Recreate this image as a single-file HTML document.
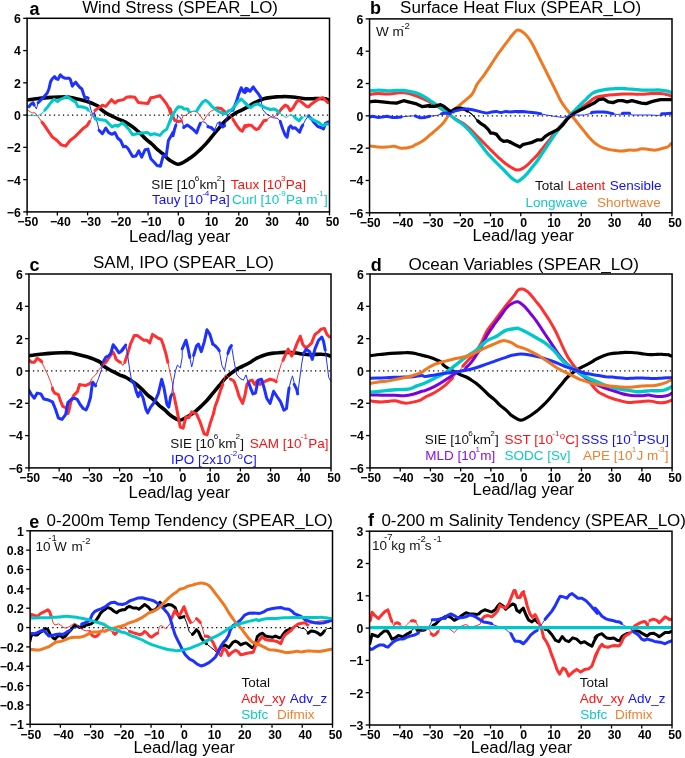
<!DOCTYPE html><html><head><meta charset="utf-8"><style>html,body{margin:0;padding:0;background:#fff;width:685px;height:758px;overflow:hidden}svg{display:block;will-change:transform}text{font-family:"Liberation Sans",sans-serif}</style></head><body>
<svg width="685" height="758" viewBox="0 0 685 758">
<g><line x1="26.50" y1="115.10" x2="329.50" y2="115.10" stroke="#000" stroke-width="1.2" stroke-dasharray="1.3 3.25"/><clipPath id="cpa"><rect x="27.10" y="18.30" width="302.40" height="193.60"/></clipPath><g clip-path="url(#cpa)"><path d="M25.6 99.9 C25.9 99.9 25.5 100.0 27.3 99.9 C29.1 99.7 33.0 99.1 36.4 98.7 C39.8 98.3 44.0 97.9 47.8 97.6 C51.6 97.3 55.7 97.1 59.2 97.0 C62.6 96.9 65.4 96.7 68.3 97.0 C71.1 97.3 73.4 98.1 76.2 98.7 C79.1 99.4 82.5 100.1 85.4 101.0 C88.2 101.8 91.0 102.9 93.3 103.8 C95.6 104.8 97.8 105.8 99.0 106.7 C100.2 107.6 99.5 108.1 100.7 109.2 C101.9 110.3 104.5 112.1 106.4 113.2 C108.3 114.4 110.2 115.1 112.1 116.1 C114.0 117.0 115.9 118.1 117.8 118.9 C119.7 119.8 121.6 120.2 123.5 121.2 C125.4 122.1 127.3 123.4 129.2 124.6 C131.1 125.8 133.0 127.1 134.9 128.6 C136.8 130.1 138.6 131.9 140.5 133.7 C142.4 135.5 144.3 137.7 146.2 139.4 C148.1 141.1 150.0 142.3 151.9 144.0 C153.8 145.7 155.7 147.9 157.6 149.7 C159.5 151.4 161.6 152.7 163.3 154.2 C165.0 155.7 166.2 157.4 167.9 158.8 C169.6 160.2 171.9 161.6 173.6 162.5 C175.2 163.4 176.3 164.2 177.7 164.3 C179.1 164.4 180.2 163.9 181.9 163.1 C183.6 162.3 185.8 160.8 187.8 159.6 C189.8 158.3 191.8 157.0 193.7 155.4 C195.7 153.8 197.7 151.9 199.7 150.1 C201.7 148.2 203.6 146.3 205.6 144.1 C207.6 141.9 209.6 139.4 211.6 137.0 C213.5 134.6 215.5 132.2 217.5 129.9 C219.5 127.5 221.5 124.8 223.4 122.7 C225.4 120.7 227.4 119.0 229.4 117.4 C231.3 115.8 233.3 114.4 235.3 113.2 C237.3 112.1 239.0 111.4 241.2 110.3 C243.5 109.1 246.9 107.4 248.8 106.4 C250.6 105.3 251.1 104.7 252.5 103.9 C254.0 103.0 255.7 102.2 257.6 101.3 C259.4 100.5 261.7 99.5 263.8 98.8 C265.9 98.2 268.0 97.9 270.1 97.6 C272.2 97.3 274.3 97.1 276.4 96.9 C278.5 96.8 280.6 96.6 282.7 96.6 C284.8 96.5 286.8 96.6 288.9 96.7 C291.0 96.8 293.1 96.9 295.2 97.2 C297.3 97.5 299.4 97.9 301.5 98.2 C303.6 98.5 305.7 98.8 307.8 98.8 C309.9 98.9 312.0 98.6 314.1 98.6 C316.1 98.5 318.4 98.4 320.3 98.5 C322.2 98.5 324.1 98.6 325.4 98.8 C326.6 99.1 327.1 99.6 327.9 99.8 C328.6 100.0 329.3 100.0 329.6 100.1" fill="none" stroke="#000" stroke-width="3.6" stroke-linejoin="round" stroke-linecap="round"/><path d="M29.0 106.7 L30.7 104.4 L33.0 102.7 L34.1 105.0" fill="none" stroke="#1e32ff" stroke-width="3.0" stroke-linejoin="round" stroke-linecap="round"/><path d="M34.1 105.0 L36.4 109.0 L38.1 102.7" fill="none" stroke="#1e32ff" stroke-width="1.0" stroke-linejoin="round" stroke-linecap="round"/><path d="M38.1 102.7 L40.9 99.9 L44.4 96.4 L47.2 93.0 L48.9 89.0 L50.6 81.6 L52.3 78.8 L54.6 76.5 L56.3 78.8 L58.0 79.4 L60.3 74.8 L62.6 77.1 L64.9 78.2 L69.4 78.2 L70.5 79.9 L72.3 86.2 L74.0 83.9 L75.7 82.2 L77.4 84.5 L79.7 87.3 L81.9 89.0 L83.6 94.2 L84.8 97.6 L87.1 97.6 L88.2 98.1" fill="none" stroke="#1e32ff" stroke-width="3.0" stroke-linejoin="round" stroke-linecap="round"/><path d="M88.2 98.1 L89.3 103.3 L91.0 110.1 L93.3 115.8 L95.0 119.2" fill="none" stroke="#1e32ff" stroke-width="1.0" stroke-linejoin="round" stroke-linecap="round"/><path d="M95.0 119.2 L94.4 112.1 L96.1 118.9 L97.8 124.6 L99.0 130.3" fill="none" stroke="#1e32ff" stroke-width="1.0" stroke-linejoin="round" stroke-linecap="round"/><path d="M99.0 130.3 L102.4 133.7 L105.8 128.0 L108.7 132.6 L112.1 134.3 L114.9 132.6 L117.8 138.3 L120.6 140.5 L123.5 146.8 L125.7 146.2 L128.0 148.5 L132.6 156.5 L136.0 155.9 L138.8 150.8 L141.7 157.1 L145.1 149.7 L147.9 149.1 L150.8 158.8 L154.2 162.2 L157.1 165.6 L160.5 166.2 L163.3 155.4 L166.2 155.9 L168.4 140.5 L173.0 132.6" fill="none" stroke="#1e32ff" stroke-width="3.0" stroke-linejoin="round" stroke-linecap="round"/><path d="M173.0 132.6 L173.0 135.8 L174.7 128.7 L175.9 125.1" fill="none" stroke="#1e32ff" stroke-width="3.0" stroke-linejoin="round" stroke-linecap="round"/><path d="M175.9 125.1 L177.7 115.6 L179.5 116.8 L181.9 120.4 L183.7 126.9" fill="none" stroke="#1e32ff" stroke-width="1.0" stroke-linejoin="round" stroke-linecap="round"/><path d="M183.7 126.9 L183.7 127.5 L187.2 125.1 L190.8 127.5 L193.7 129.9 L196.7 132.8 L198.5 127.5 L200.3 123.3" fill="none" stroke="#1e32ff" stroke-width="3.0" stroke-linejoin="round" stroke-linecap="round"/><path d="M200.3 123.3 L202.7 121.6 L205.6 122.7 L208.0 126.3" fill="none" stroke="#1e32ff" stroke-width="1.0" stroke-linejoin="round" stroke-linecap="round"/><path d="M208.0 126.3 L208.0 126.9 L211.0 127.5 L214.5 130.5" fill="none" stroke="#1e32ff" stroke-width="3.0" stroke-linejoin="round" stroke-linecap="round"/><path d="M214.5 130.5 L217.5 122.7 L219.9 122.7" fill="none" stroke="#1e32ff" stroke-width="1.0" stroke-linejoin="round" stroke-linecap="round"/><path d="M219.9 122.7 L219.9 123.9 L222.8 126.9 L224.6 125.7" fill="none" stroke="#1e32ff" stroke-width="3.0" stroke-linejoin="round" stroke-linecap="round"/><path d="M224.6 125.7 L227.6 115.6 L230.6 112.1 L232.9 110.3" fill="none" stroke="#1e32ff" stroke-width="1.0" stroke-linejoin="round" stroke-linecap="round"/><path d="M232.9 110.3 L234.1 107.3 L236.5 101.4 L238.3 95.4 L241.2 87.7 L243.6 91.9 L246.0 88.3 L248.0 90.7" fill="none" stroke="#1e32ff" stroke-width="3.0" stroke-linejoin="round" stroke-linecap="round"/><path d="M245.0 92.6 L247.5 88.8 L250.0 91.3 L253.2 86.9 L256.3 91.3 L258.8 94.4 L260.7 97.6" fill="none" stroke="#1e32ff" stroke-width="3.0" stroke-linejoin="round" stroke-linecap="round"/><path d="M260.7 97.6 L262.6 109.5 L266.3 113.9 L270.1 115.8 L272.6 117.7 L277.6 118.3 L280.2 121.4" fill="none" stroke="#1e32ff" stroke-width="1.0" stroke-linejoin="round" stroke-linecap="round"/><path d="M280.2 121.4 L282.7 129.0 L285.2 135.2 L287.1 137.1 L288.9 127.7 L290.8 125.8 L292.7 128.3 L295.2 127.7 L297.7 130.2 L299.6 132.1 L301.5 127.1 L302.8 125.2" fill="none" stroke="#1e32ff" stroke-width="3.0" stroke-linejoin="round" stroke-linecap="round"/><path d="M302.8 125.2 L305.3 120.2 L308.4 115.8" fill="none" stroke="#1e32ff" stroke-width="1.0" stroke-linejoin="round" stroke-linecap="round"/><path d="M308.4 115.8 L311.5 118.9 L314.1 122.7 L317.8 126.5 L321.6 127.7 L323.5 129.0 L325.4 123.3 L327.9 122.1 L330.4 122.1" fill="none" stroke="#1e32ff" stroke-width="3.0" stroke-linejoin="round" stroke-linecap="round"/><path d="M27.8 110.1 L31.8 112.9 L35.2 112.9 L37.5 115.8 L39.2 118.1" fill="none" stroke="#ff3030" stroke-width="1.0" stroke-linejoin="round" stroke-linecap="round"/><path d="M39.2 118.1 L39.7 118.8 L42.0 122.2" fill="none" stroke="#ff3030" stroke-width="1.0" stroke-linejoin="round" stroke-linecap="round"/><path d="M42.0 122.2 L43.1 123.4 L47.6 130.1 L52.2 136.9 L56.7 140.3 L61.2 144.9 L65.7 146.0 L70.3 140.3 L74.8 136.9 L79.3 132.4 L83.8 127.9 L87.2 125.6 L89.5 121.5" fill="none" stroke="#ff3030" stroke-width="3.0" stroke-linejoin="round" stroke-linecap="round"/><path d="M89.5 121.5 L90.8 119.5 L91.8 117.1 L94.9 110.5" fill="none" stroke="#ff3030" stroke-width="1.0" stroke-linejoin="round" stroke-linecap="round"/><path d="M94.9 110.5 L98.4 108.1 L102.4 105.2 L105.8 106.4 L111.5 99.6 L114.9 103.0 L117.8 100.7 L123.5 99.6 L126.3 97.3 L130.3 96.7 L134.9 97.3 L138.3 102.4 L142.8 103.0 L147.9 103.5 L150.8 97.8 L154.2 97.3 L159.9 95.6 L163.3 99.6 L166.7 104.1 L169.0 108.7 L170.7 113.8 L173.0 115.5" fill="none" stroke="#ff3030" stroke-width="3.0" stroke-linejoin="round" stroke-linecap="round"/><path d="M170.0 108.5 L172.4 115.6 L174.7 120.4 L178.3 121.6 L181.3 121.0" fill="none" stroke="#ff3030" stroke-width="3.0" stroke-linejoin="round" stroke-linecap="round"/><path d="M181.3 121.0 L183.1 115.6 L185.4 115.6 L189.0 113.2 L191.4 112.1 L193.7 110.9 L197.3 112.1 L200.9 116.8 L203.8 120.4 L206.8 115.6 L210.4 111.5 L213.9 109.7 L215.1 108.5" fill="none" stroke="#ff3030" stroke-width="1.0" stroke-linejoin="round" stroke-linecap="round"/><path d="M215.1 108.5 L217.5 107.9 L221.1 108.5 L224.6 111.5" fill="none" stroke="#ff3030" stroke-width="3.0" stroke-linejoin="round" stroke-linecap="round"/><path d="M224.6 111.5 L228.2 115.0 L231.1 116.2 L232.9 119.2" fill="none" stroke="#ff3030" stroke-width="1.0" stroke-linejoin="round" stroke-linecap="round"/><path d="M232.9 119.2 L236.5 125.1 L240.1 129.9 L242.4 131.1 L244.8 125.7 L248.0 125.1" fill="none" stroke="#ff3030" stroke-width="3.0" stroke-linejoin="round" stroke-linecap="round"/><path d="M245.0 127.1 L248.8 125.2 L251.3 125.2 L253.8 127.7 L256.3 129.6 L258.8 128.3 L261.3 124.6 L263.8 120.8 L266.3 120.2" fill="none" stroke="#ff3030" stroke-width="3.0" stroke-linejoin="round" stroke-linecap="round"/><path d="M266.3 120.2 L270.1 117.0 L272.6 117.0 L275.1 116.4 L277.6 113.9" fill="none" stroke="#ff3030" stroke-width="1.0" stroke-linejoin="round" stroke-linecap="round"/><path d="M277.6 113.9 L281.4 108.9 L285.2 105.1 L287.7 106.4 L290.2 110.8 L293.3 107.6 L296.5 102.0 L299.0 100.1 L302.8 103.2 L306.5 106.4 L308.4 107.0 L311.5 103.9 L315.3 101.3 L319.1 98.8 L322.8 97.6 L325.4 100.1 L327.9 102.6 L330.4 103.2" fill="none" stroke="#ff3030" stroke-width="3.0" stroke-linejoin="round" stroke-linecap="round"/><path d="M27.3 115.8 L31.8 115.2 L36.4 115.8 L39.8 114.7 L43.2 112.4 L44.9 110.1" fill="none" stroke="#00c8c8" stroke-width="1.0" stroke-linejoin="round" stroke-linecap="round"/><path d="M44.9 110.1 L47.8 106.7 L51.2 102.1 L54.0 99.3 L57.5 101.6 L60.3 99.3 L63.7 98.1 L66.6 96.4 L69.4 98.1 L72.8 100.4 L75.7 102.1 L77.9 106.7 L80.8 106.7 L84.2 107.3 L87.1 108.4 L88.2 110.1" fill="none" stroke="#00c8c8" stroke-width="3.0" stroke-linejoin="round" stroke-linecap="round"/><path d="M88.2 110.1 L90.5 112.9 L93.3 116.9 L95.6 119.2" fill="none" stroke="#00c8c8" stroke-width="1.0" stroke-linejoin="round" stroke-linecap="round"/><path d="M95.6 119.2 L95.0 118.3 L99.6 119.5 L105.8 120.6 L109.2 124.0 L112.1 126.9 L115.5 125.2 L117.8 126.3 L122.3 122.9 L125.2 125.2 L129.2 129.7 L132.6 134.9 L137.1 133.7 L141.7 133.1 L147.4 132.6 L150.8 134.9 L154.2 133.7 L159.9 135.4 L163.3 131.4 L166.7 129.2 L169.0 123.5 L171.3 117.8 L173.0 113.8" fill="none" stroke="#00c8c8" stroke-width="3.0" stroke-linejoin="round" stroke-linecap="round"/><path d="M170.0 121.6 L172.4 115.6 L175.9 109.7 L178.3 106.7 L181.9 107.3 L184.2 109.1 L187.8 109.1 L189.0 111.5" fill="none" stroke="#00c8c8" stroke-width="3.0" stroke-linejoin="round" stroke-linecap="round"/><path d="M189.0 111.5 L193.7 111.5 L196.7 110.9" fill="none" stroke="#00c8c8" stroke-width="1.0" stroke-linejoin="round" stroke-linecap="round"/><path d="M196.7 110.9 L199.7 106.1 L202.7 102.0 L205.6 100.2 L208.6 102.6 L211.6 106.1 L215.1 109.1 L218.7 111.5 L222.2 113.2 L225.8 113.8 L228.2 110.9 L231.7 109.7 L234.7 106.1 L237.7 102.0 L241.2 99.0 L244.2 102.0 L248.0 106.1" fill="none" stroke="#00c8c8" stroke-width="3.0" stroke-linejoin="round" stroke-linecap="round"/><path d="M245.0 102.6 L247.5 105.1 L250.6 107.6 L253.8 105.1 L257.6 103.9 L261.3 105.7 L265.1 107.6 L270.1 109.5 L273.9 108.9 L276.4 110.1 L278.9 112.6" fill="none" stroke="#00c8c8" stroke-width="3.0" stroke-linejoin="round" stroke-linecap="round"/><path d="M278.9 112.6 L282.7 115.2 L286.4 117.7 L290.2 114.5 L294.0 116.4" fill="none" stroke="#00c8c8" stroke-width="1.0" stroke-linejoin="round" stroke-linecap="round"/><path d="M294.0 116.4 L296.5 118.9 L299.0 120.8 L301.5 117.7" fill="none" stroke="#00c8c8" stroke-width="3.0" stroke-linejoin="round" stroke-linecap="round"/><path d="M301.5 117.7 L305.3 116.4 L308.4 115.8 L310.3 118.3" fill="none" stroke="#00c8c8" stroke-width="1.0" stroke-linejoin="round" stroke-linecap="round"/><path d="M310.3 118.3 L315.3 120.8 L319.1 122.7 L322.8 125.8 L326.6 123.9 L330.4 123.9" fill="none" stroke="#00c8c8" stroke-width="3.0" stroke-linejoin="round" stroke-linecap="round"/></g><rect x="27.10" y="18.30" width="302.40" height="193.60" fill="none" stroke="#000" stroke-width="1.5"/><line x1="23.20" y1="211.90" x2="27.10" y2="211.90" stroke="#000" stroke-width="1.3"/><text x="20.90" y="216.80" font-size="12.3" font-weight="bold" text-anchor="end">−6</text><line x1="23.20" y1="179.63" x2="27.10" y2="179.63" stroke="#000" stroke-width="1.3"/><text x="20.90" y="184.53" font-size="12.3" font-weight="bold" text-anchor="end">−4</text><line x1="23.20" y1="147.37" x2="27.10" y2="147.37" stroke="#000" stroke-width="1.3"/><text x="20.90" y="152.27" font-size="12.3" font-weight="bold" text-anchor="end">−2</text><line x1="23.20" y1="115.10" x2="27.10" y2="115.10" stroke="#000" stroke-width="1.3"/><text x="20.90" y="120.00" font-size="12.3" font-weight="bold" text-anchor="end">0</text><line x1="23.20" y1="82.83" x2="27.10" y2="82.83" stroke="#000" stroke-width="1.3"/><text x="20.90" y="87.73" font-size="12.3" font-weight="bold" text-anchor="end">2</text><line x1="23.20" y1="50.57" x2="27.10" y2="50.57" stroke="#000" stroke-width="1.3"/><text x="20.90" y="55.47" font-size="12.3" font-weight="bold" text-anchor="end">4</text><line x1="23.20" y1="18.30" x2="27.10" y2="18.30" stroke="#000" stroke-width="1.3"/><text x="20.90" y="23.20" font-size="12.3" font-weight="bold" text-anchor="end">6</text><line x1="27.10" y1="211.90" x2="27.10" y2="215.40" stroke="#000" stroke-width="1.3"/><text x="27.80" y="226.20" font-size="12.3" font-weight="bold" text-anchor="middle">−50</text><line x1="57.34" y1="211.90" x2="57.34" y2="215.40" stroke="#000" stroke-width="1.3"/><text x="60.34" y="226.20" font-size="12.3" font-weight="bold" text-anchor="middle">−40</text><line x1="87.58" y1="211.90" x2="87.58" y2="215.40" stroke="#000" stroke-width="1.3"/><text x="90.58" y="226.20" font-size="12.3" font-weight="bold" text-anchor="middle">−30</text><line x1="117.82" y1="211.90" x2="117.82" y2="215.40" stroke="#000" stroke-width="1.3"/><text x="120.82" y="226.20" font-size="12.3" font-weight="bold" text-anchor="middle">−20</text><line x1="148.06" y1="211.90" x2="148.06" y2="215.40" stroke="#000" stroke-width="1.3"/><text x="151.06" y="226.20" font-size="12.3" font-weight="bold" text-anchor="middle">−10</text><line x1="178.30" y1="211.90" x2="178.30" y2="215.40" stroke="#000" stroke-width="1.3"/><text x="181.30" y="226.20" font-size="12.3" font-weight="bold" text-anchor="middle">0</text><line x1="208.54" y1="211.90" x2="208.54" y2="215.40" stroke="#000" stroke-width="1.3"/><text x="211.54" y="226.20" font-size="12.3" font-weight="bold" text-anchor="middle">10</text><line x1="238.78" y1="211.90" x2="238.78" y2="215.40" stroke="#000" stroke-width="1.3"/><text x="241.78" y="226.20" font-size="12.3" font-weight="bold" text-anchor="middle">20</text><line x1="269.02" y1="211.90" x2="269.02" y2="215.40" stroke="#000" stroke-width="1.3"/><text x="272.02" y="226.20" font-size="12.3" font-weight="bold" text-anchor="middle">30</text><line x1="299.26" y1="211.90" x2="299.26" y2="215.40" stroke="#000" stroke-width="1.3"/><text x="302.26" y="226.20" font-size="12.3" font-weight="bold" text-anchor="middle">40</text><line x1="329.50" y1="211.90" x2="329.50" y2="215.40" stroke="#000" stroke-width="1.3"/><text x="332.50" y="226.20" font-size="12.3" font-weight="bold" text-anchor="middle">50</text><text x="128.90" y="241.80" font-size="16" textLength="101.5" lengthAdjust="spacingAndGlyphs">Lead/lag year</text><text x="82.20" y="12.90" font-size="16" textLength="195.8" lengthAdjust="spacingAndGlyphs">Wind Stress (SPEAR_LO)</text><text x="29.50" y="15.30" font-size="18" font-weight="bold">a</text></g>
<g><line x1="368.95" y1="115.85" x2="672.00" y2="115.85" stroke="#000" stroke-width="1.2" stroke-dasharray="1.3 3.25"/><clipPath id="cpb"><rect x="369.55" y="18.90" width="302.45" height="193.90"/></clipPath><g clip-path="url(#cpb)"><path d="M368.0 145.9 C369.6 146.1 374.3 146.8 377.5 147.0 C380.7 147.2 384.2 147.2 387.0 147.0 C389.8 146.9 391.7 146.1 394.1 146.3 C396.5 146.5 398.5 148.1 401.2 148.2 C404.0 148.4 408.4 147.6 410.7 147.0 C413.1 146.5 413.5 145.7 415.5 144.7 C417.5 143.7 420.2 142.7 422.6 141.1 C425.0 139.5 427.4 137.2 429.7 135.2 C432.1 133.2 434.5 131.4 436.9 129.2 C439.2 127.1 442.0 124.5 444.0 122.1 C446.0 119.7 447.2 117.0 448.7 115.0 C450.3 113.0 451.5 112.0 453.5 110.2 C455.5 108.5 458.2 106.3 460.6 104.3 C463.0 102.3 465.8 100.1 467.7 98.4 C469.7 96.6 470.9 96.0 472.5 93.6 C474.1 91.2 475.3 87.3 477.2 84.1 C479.2 80.9 482.0 78.0 484.4 74.6 C486.7 71.3 489.1 67.5 491.5 63.9 C493.9 60.4 496.2 56.6 498.6 53.2 C501.0 49.9 503.4 46.9 505.7 43.7 C508.1 40.6 510.9 36.5 512.9 34.2 C514.8 32.0 516.0 30.4 517.6 30.0 C519.3 29.6 521.1 30.8 522.7 31.9 C524.4 33.0 525.9 34.6 527.5 36.6 C529.1 38.6 530.7 41.0 532.2 43.7 C533.8 46.5 535.4 50.1 537.0 53.2 C538.6 56.4 540.2 59.6 541.7 62.7 C543.3 65.9 544.9 69.1 546.5 72.2 C548.1 75.4 549.7 78.6 551.2 81.7 C552.8 84.9 554.4 88.1 556.0 91.2 C557.6 94.4 559.2 98.0 560.7 100.7 C562.3 103.5 563.9 105.7 565.5 107.9 C567.1 110.0 568.7 111.8 570.2 113.8 C571.8 115.8 573.4 117.8 575.0 119.7 C576.6 121.7 578.2 123.7 579.7 125.7 C581.3 127.7 582.9 129.6 584.5 131.6 C586.1 133.6 587.7 135.8 589.2 137.5 C590.8 139.3 592.0 140.7 594.0 142.3 C596.0 143.9 598.7 145.9 601.1 147.0 C603.5 148.2 605.9 148.8 608.2 149.4 C610.6 150.0 613.0 150.3 615.4 150.6 C617.7 150.9 620.1 151.2 622.5 151.1 C624.9 151.0 627.2 150.3 629.6 150.1 C632.0 150.0 634.8 150.4 636.7 150.1 C638.7 149.9 639.5 148.8 641.5 148.7 C643.5 148.6 646.2 149.2 648.6 149.4 C651.0 149.7 653.4 150.3 655.7 150.1 C658.1 149.9 660.9 148.7 662.9 148.2 C664.8 147.7 666.2 147.8 667.6 147.0 C669.0 146.3 670.6 144.1 671.2 143.5" fill="none" stroke="#f07820" stroke-width="3.0" stroke-linejoin="round" stroke-linecap="round"/><path d="M368.0 94.8 C369.6 94.6 374.3 93.7 377.5 93.6 C380.7 93.5 383.8 94.2 387.0 94.1 C390.2 94.0 393.7 93.4 396.5 93.1 C399.3 92.9 401.2 92.5 403.6 92.7 C406.0 92.8 408.4 93.5 410.7 94.1 C413.1 94.7 415.5 95.6 417.9 96.5 C420.2 97.4 422.6 98.4 425.0 99.6 C427.4 100.7 429.7 101.8 432.1 103.1 C434.5 104.4 436.3 105.4 439.2 107.4 C442.2 109.4 447.2 113.0 449.9 115.0 C452.7 117.0 453.7 117.9 455.9 119.3 C458.0 120.6 460.6 121.6 463.0 123.3 C465.4 125.0 467.7 127.1 470.1 129.2 C472.5 131.4 474.9 134.0 477.2 136.4 C479.6 138.7 482.0 141.1 484.4 143.5 C486.7 145.9 489.1 148.2 491.5 150.6 C493.9 153.0 496.2 155.6 498.6 157.7 C501.0 159.9 503.4 161.9 505.7 163.7 C508.1 165.4 510.9 167.3 512.9 168.4 C514.8 169.5 516.0 170.1 517.6 170.1 C519.3 170.1 521.1 169.3 522.7 168.4 C524.4 167.5 525.9 166.2 527.5 164.9 C529.1 163.5 530.7 161.7 532.2 160.1 C533.8 158.5 535.4 157.1 537.0 155.4 C538.6 153.6 540.2 151.4 541.7 149.4 C543.3 147.4 544.9 145.5 546.5 143.5 C548.1 141.5 549.7 139.6 551.2 137.5 C552.8 135.5 554.4 133.1 556.0 131.1 C557.6 129.2 559.2 127.5 560.7 125.7 C562.3 123.9 563.9 122.0 565.5 120.2 C567.1 118.4 568.7 116.3 570.2 115.0 C571.8 113.6 573.4 113.1 575.0 112.1 C576.6 111.1 578.2 110.2 579.7 109.1 C581.3 107.9 582.9 106.7 584.5 105.5 C586.1 104.3 587.7 103.1 589.2 101.9 C590.8 100.7 592.4 99.3 594.0 98.4 C595.6 97.5 596.8 96.9 598.7 96.5 C600.7 96.0 603.5 95.8 605.9 95.5 C608.2 95.2 610.2 95.0 613.0 94.8 C615.8 94.6 619.3 94.2 622.5 94.1 C625.7 94.0 628.8 94.1 632.0 94.1 C635.2 94.1 638.3 94.4 641.5 94.3 C644.6 94.2 647.8 93.7 651.0 93.6 C654.1 93.5 657.7 93.4 660.5 93.6 C663.3 93.8 665.8 94.4 667.6 94.8 C669.4 95.2 670.6 95.8 671.2 96.0" fill="none" stroke="#ff3030" stroke-width="3.0" stroke-linejoin="round" stroke-linecap="round"/><path d="M368.0 91.2 C369.6 91.0 374.3 90.1 377.5 90.1 C380.7 90.0 383.8 90.7 387.0 90.8 C390.2 90.8 393.7 90.6 396.5 90.5 C399.3 90.5 401.2 90.3 403.6 90.5 C406.0 90.7 408.4 91.2 410.7 91.7 C413.1 92.2 415.5 92.7 417.9 93.6 C420.2 94.5 422.6 95.8 425.0 97.2 C427.4 98.6 429.7 100.3 432.1 101.9 C434.5 103.5 437.3 105.3 439.2 106.7 C441.2 108.1 442.2 108.9 444.0 110.2 C445.8 111.6 447.9 113.4 449.9 115.0 C451.9 116.6 453.7 118.2 455.9 119.7 C458.0 121.3 460.6 122.5 463.0 124.5 C465.4 126.5 467.7 129.0 470.1 131.6 C472.5 134.2 474.9 137.0 477.2 139.9 C479.6 142.9 482.0 146.5 484.4 149.4 C486.7 152.4 489.1 155.2 491.5 157.7 C493.9 160.3 496.2 162.5 498.6 164.9 C501.0 167.2 503.4 169.6 505.7 172.0 C508.1 174.4 510.9 177.5 512.9 179.1 C514.8 180.7 516.0 181.7 517.6 181.5 C519.3 181.3 521.1 179.3 522.7 177.9 C524.4 176.5 525.9 174.9 527.5 173.2 C529.1 171.4 530.7 169.2 532.2 167.2 C533.8 165.3 535.4 163.5 537.0 161.3 C538.6 159.1 540.2 156.5 541.7 154.2 C543.3 151.8 544.9 149.4 546.5 147.0 C548.1 144.7 549.7 142.3 551.2 139.9 C552.8 137.5 554.4 135.0 556.0 132.8 C557.6 130.6 559.2 128.8 560.7 126.9 C562.3 124.9 563.9 122.9 565.5 120.9 C567.1 118.9 568.7 116.8 570.2 115.0 C571.8 113.2 573.4 111.8 575.0 110.2 C576.6 108.7 578.2 107.1 579.7 105.5 C581.3 103.9 582.9 102.3 584.5 100.7 C586.1 99.2 587.7 97.4 589.2 96.0 C590.8 94.6 592.4 93.3 594.0 92.4 C595.6 91.6 596.8 91.3 598.7 90.8 C600.7 90.3 603.5 89.7 605.9 89.3 C608.2 89.0 610.6 89.0 613.0 88.9 C615.4 88.7 617.7 88.4 620.1 88.4 C622.5 88.4 624.9 88.7 627.2 88.9 C629.6 89.0 632.0 89.1 634.4 89.3 C636.7 89.5 638.7 89.9 641.5 90.1 C644.3 90.2 647.8 90.1 651.0 90.1 C654.1 90.1 657.7 89.9 660.5 90.1 C663.3 90.3 665.8 90.8 667.6 91.2 C669.4 91.6 670.6 92.2 671.2 92.4" fill="none" stroke="#00c8c8" stroke-width="3.3" stroke-linejoin="round" stroke-linecap="round"/><path d="M368.0 101.9 L375.1 101.2 L382.2 101.9 L389.4 102.6 L396.5 103.1 L403.6 100.7 L408.4 101.9 L415.5 103.6 L422.6 106.7 L429.7 105.5 L430.0 106.4" fill="none" stroke="#000" stroke-width="3.3" stroke-linejoin="round" stroke-linecap="round"/><path d="M430.0 106.4 L434.7 106.4 L440.5 104.6 L444.0 106.4 L447.5 109.3 L450.4 111.6 L452.8 110.4 L455.7 108.7 L460.4 108.1 L465.0 109.3 L467.4 111.0" fill="none" stroke="#000" stroke-width="3.3" stroke-linejoin="round" stroke-linecap="round"/><path d="M467.4 111.0 L470.9 113.4 L474.4 116.9 L476.7 119.8 L477.9 120.9" fill="none" stroke="#000" stroke-width="1.2" stroke-linejoin="round" stroke-linecap="round"/><path d="M477.9 120.9 L481.4 123.9 L484.9 126.2 L488.4 129.7 L490.7 133.2 L493.6 133.2 L496.6 134.4 L500.1 139.1 L503.6 141.4 L507.1 140.8 L510.0 142.0" fill="none" stroke="#000" stroke-width="3.3" stroke-linejoin="round" stroke-linecap="round"/><path d="M510.0 142.0 L510.5 142.3 L515.2 144.7 L520.0 147.0 L522.7 144.7 L527.5 143.5 L532.2 142.3 L537.0 139.9 L541.7 139.9 L545.3 136.4 L548.9 134.0 L553.6 131.6 L558.4 129.2 L563.1 124.5 L566.7 119.7 L570.2 116.2 L575.0 112.6 L579.7 110.2 L584.5 107.9 L589.2 105.5 L594.0 103.1 L598.7 99.6 L603.5 98.8 L608.2 101.9 L613.0 102.6 L617.7 100.7 L622.5 100.7 L627.2 101.9 L632.0 100.7 L636.7 101.9 L641.5 103.1 L646.2 103.6 L651.0 101.9 L655.7 100.7 L660.5 99.6 L665.2 99.6 L671.2 99.6" fill="none" stroke="#000" stroke-width="3.3" stroke-linejoin="round" stroke-linecap="round"/><path d="M368.0 117.4 L372.7 116.2 L377.5 117.4 L382.2 116.9 L387.0 116.2 L391.7 117.4 L396.5 117.4 L401.2 116.9" fill="none" stroke="#1e32ff" stroke-width="3.0" stroke-linejoin="round" stroke-linecap="round"/><path d="M401.2 116.9 L408.4 116.2 L415.5 115.7" fill="none" stroke="#1e32ff" stroke-width="1.0" stroke-linejoin="round" stroke-linecap="round"/><path d="M415.5 115.7 L415.5 116.2 L420.2 117.8 L425.0 117.4 L429.7 116.2" fill="none" stroke="#1e32ff" stroke-width="3.0" stroke-linejoin="round" stroke-linecap="round"/><path d="M429.7 116.2 L436.9 115.5 L441.6 113.8" fill="none" stroke="#1e32ff" stroke-width="1.0" stroke-linejoin="round" stroke-linecap="round"/><path d="M441.6 113.8 L446.4 113.1 L449.9 113.8" fill="none" stroke="#1e32ff" stroke-width="3.0" stroke-linejoin="round" stroke-linecap="round"/><path d="M449.9 113.8 L453.5 112.1" fill="none" stroke="#1e32ff" stroke-width="1.0" stroke-linejoin="round" stroke-linecap="round"/><path d="M453.5 112.1 L453.5 111.4 L463.0 109.1 L467.7 109.1 L472.5 109.8 L477.2 110.9 L482.0 112.1 L486.7 113.1 L491.5 112.1 L496.2 111.4 L501.0 112.6 L505.7 111.4 L510.5 112.1 L515.2 111.4 L522.1 111.4" fill="none" stroke="#1e32ff" stroke-width="3.0" stroke-linejoin="round" stroke-linecap="round"/><path d="M518.0 112.1 L522.7 111.4 L527.5 112.1 L532.2 112.6 L537.0 113.1 L540.6 113.8" fill="none" stroke="#1e32ff" stroke-width="3.0" stroke-linejoin="round" stroke-linecap="round"/><path d="M540.6 113.8 L546.5 115.0 L553.6 116.2 L558.4 116.9 L563.1 117.4 L567.9 116.2 L572.6 115.0 L579.7 115.0 L584.5 115.0 L589.2 113.8 L591.6 113.1" fill="none" stroke="#1e32ff" stroke-width="1.0" stroke-linejoin="round" stroke-linecap="round"/><path d="M591.6 113.1 L591.6 112.6 L596.4 112.1 L603.5 112.1 L608.2 112.6 L613.0 113.8" fill="none" stroke="#1e32ff" stroke-width="3.0" stroke-linejoin="round" stroke-linecap="round"/><path d="M613.0 113.8 L617.7 114.5 L622.5 113.8" fill="none" stroke="#1e32ff" stroke-width="1.0" stroke-linejoin="round" stroke-linecap="round"/><path d="M622.5 113.8 L622.5 113.3 L629.6 113.3" fill="none" stroke="#1e32ff" stroke-width="3.0" stroke-linejoin="round" stroke-linecap="round"/><path d="M629.6 113.3 L629.6 113.8 L632.0 115.0 L641.5 115.0 L651.0 115.0 L658.1 115.5 L661.7 114.5" fill="none" stroke="#1e32ff" stroke-width="1.0" stroke-linejoin="round" stroke-linecap="round"/><path d="M661.7 114.5 L661.7 113.8 L665.2 113.8 L671.2 113.3" fill="none" stroke="#1e32ff" stroke-width="3.0" stroke-linejoin="round" stroke-linecap="round"/></g><rect x="369.55" y="18.90" width="302.45" height="193.90" fill="none" stroke="#000" stroke-width="1.5"/><line x1="365.65" y1="212.80" x2="369.55" y2="212.80" stroke="#000" stroke-width="1.3"/><text x="363.35" y="217.70" font-size="12.3" font-weight="bold" text-anchor="end">−6</text><line x1="365.65" y1="180.48" x2="369.55" y2="180.48" stroke="#000" stroke-width="1.3"/><text x="363.35" y="185.38" font-size="12.3" font-weight="bold" text-anchor="end">−4</text><line x1="365.65" y1="148.17" x2="369.55" y2="148.17" stroke="#000" stroke-width="1.3"/><text x="363.35" y="153.07" font-size="12.3" font-weight="bold" text-anchor="end">−2</text><line x1="365.65" y1="115.85" x2="369.55" y2="115.85" stroke="#000" stroke-width="1.3"/><text x="363.35" y="120.75" font-size="12.3" font-weight="bold" text-anchor="end">0</text><line x1="365.65" y1="83.53" x2="369.55" y2="83.53" stroke="#000" stroke-width="1.3"/><text x="363.35" y="88.43" font-size="12.3" font-weight="bold" text-anchor="end">2</text><line x1="365.65" y1="51.22" x2="369.55" y2="51.22" stroke="#000" stroke-width="1.3"/><text x="363.35" y="56.12" font-size="12.3" font-weight="bold" text-anchor="end">4</text><line x1="365.65" y1="18.90" x2="369.55" y2="18.90" stroke="#000" stroke-width="1.3"/><text x="363.35" y="23.80" font-size="12.3" font-weight="bold" text-anchor="end">6</text><line x1="369.55" y1="212.80" x2="369.55" y2="216.30" stroke="#000" stroke-width="1.3"/><text x="370.25" y="227.10" font-size="12.3" font-weight="bold" text-anchor="middle">−50</text><line x1="399.80" y1="212.80" x2="399.80" y2="216.30" stroke="#000" stroke-width="1.3"/><text x="402.80" y="227.10" font-size="12.3" font-weight="bold" text-anchor="middle">−40</text><line x1="430.04" y1="212.80" x2="430.04" y2="216.30" stroke="#000" stroke-width="1.3"/><text x="433.04" y="227.10" font-size="12.3" font-weight="bold" text-anchor="middle">−30</text><line x1="460.29" y1="212.80" x2="460.29" y2="216.30" stroke="#000" stroke-width="1.3"/><text x="463.29" y="227.10" font-size="12.3" font-weight="bold" text-anchor="middle">−20</text><line x1="490.53" y1="212.80" x2="490.53" y2="216.30" stroke="#000" stroke-width="1.3"/><text x="493.53" y="227.10" font-size="12.3" font-weight="bold" text-anchor="middle">−10</text><line x1="520.77" y1="212.80" x2="520.77" y2="216.30" stroke="#000" stroke-width="1.3"/><text x="523.77" y="227.10" font-size="12.3" font-weight="bold" text-anchor="middle">0</text><line x1="551.02" y1="212.80" x2="551.02" y2="216.30" stroke="#000" stroke-width="1.3"/><text x="554.02" y="227.10" font-size="12.3" font-weight="bold" text-anchor="middle">10</text><line x1="581.26" y1="212.80" x2="581.26" y2="216.30" stroke="#000" stroke-width="1.3"/><text x="584.26" y="227.10" font-size="12.3" font-weight="bold" text-anchor="middle">20</text><line x1="611.51" y1="212.80" x2="611.51" y2="216.30" stroke="#000" stroke-width="1.3"/><text x="614.51" y="227.10" font-size="12.3" font-weight="bold" text-anchor="middle">30</text><line x1="641.75" y1="212.80" x2="641.75" y2="216.30" stroke="#000" stroke-width="1.3"/><text x="644.75" y="227.10" font-size="12.3" font-weight="bold" text-anchor="middle">40</text><line x1="672.00" y1="212.80" x2="672.00" y2="216.30" stroke="#000" stroke-width="1.3"/><text x="675.00" y="227.10" font-size="12.3" font-weight="bold" text-anchor="middle">50</text><text x="472.40" y="241.30" font-size="16" textLength="101.5" lengthAdjust="spacingAndGlyphs">Lead/lag year</text><text x="400.10" y="13.10" font-size="16" textLength="241.1" lengthAdjust="spacingAndGlyphs">Surface Heat Flux (SPEAR_LO)</text><text x="369.90" y="14.30" font-size="18" font-weight="bold">b</text></g>
<g><line x1="28.36" y1="370.95" x2="331.00" y2="370.95" stroke="#000" stroke-width="1.2" stroke-dasharray="1.3 3.25"/><clipPath id="cpc"><rect x="28.96" y="274.00" width="302.04" height="193.90"/></clipPath><g clip-path="url(#cpc)"><path d="M27.4 355.7 C27.7 355.7 27.3 355.9 29.1 355.7 C30.9 355.5 34.8 354.9 38.2 354.5 C41.6 354.2 45.8 353.7 49.6 353.4 C53.4 353.1 57.6 352.9 61.0 352.8 C64.4 352.7 67.2 352.5 70.1 352.8 C72.9 353.1 75.2 353.9 78.0 354.5 C80.9 355.2 84.3 356.0 87.1 356.8 C90.0 357.7 92.8 358.7 95.1 359.7 C97.4 360.6 99.6 361.6 100.8 362.5 C102.0 363.4 101.2 364.0 102.5 365.1 C103.7 366.2 106.3 367.9 108.2 369.1 C110.0 370.2 111.9 371.0 113.8 371.9 C115.7 372.9 117.6 373.9 119.5 374.8 C121.4 375.6 123.3 376.1 125.2 377.0 C127.1 378.0 129.0 379.2 130.9 380.5 C132.8 381.7 134.7 382.9 136.6 384.5 C138.5 386.0 140.4 387.8 142.3 389.6 C144.2 391.4 146.1 393.6 148.0 395.3 C149.9 397.0 151.8 398.1 153.6 399.9 C155.5 401.6 157.4 403.8 159.3 405.6 C161.2 407.3 163.3 408.6 165.0 410.1 C166.7 411.6 167.9 413.3 169.6 414.7 C171.3 416.1 173.6 417.5 175.2 418.4 C176.9 419.4 178.0 420.1 179.4 420.2 C180.8 420.3 181.9 419.8 183.5 419.0 C185.2 418.2 187.5 416.8 189.5 415.5 C191.5 414.2 193.4 412.9 195.4 411.3 C197.4 409.7 199.4 407.8 201.3 406.0 C203.3 404.1 205.3 402.2 207.3 400.0 C209.2 397.8 211.2 395.3 213.2 392.9 C215.2 390.5 217.2 388.1 219.1 385.7 C221.1 383.4 223.1 380.7 225.1 378.6 C227.0 376.5 229.0 374.8 231.0 373.3 C233.0 371.7 234.9 370.3 236.9 369.1 C238.9 367.9 240.6 367.3 242.8 366.1 C245.1 365.0 248.5 363.3 250.4 362.2 C252.2 361.1 252.7 360.5 254.1 359.7 C255.6 358.8 257.3 358.0 259.1 357.2 C261.0 356.3 263.3 355.3 265.4 354.7 C267.5 354.0 269.6 353.7 271.7 353.4 C273.8 353.1 275.9 352.9 278.0 352.8 C280.0 352.6 282.1 352.4 284.2 352.4 C286.3 352.4 288.4 352.4 290.5 352.5 C292.6 352.6 294.7 352.8 296.8 353.0 C298.8 353.3 300.9 353.8 303.0 354.0 C305.1 354.3 307.2 354.6 309.3 354.7 C311.4 354.7 313.5 354.5 315.6 354.4 C317.7 354.3 320.0 354.2 321.8 354.3 C323.7 354.3 325.6 354.4 326.9 354.7 C328.1 354.9 328.7 355.5 329.4 355.7 C330.1 355.9 330.8 355.9 331.1 355.9" fill="none" stroke="#000" stroke-width="3.6" stroke-linejoin="round" stroke-linecap="round"/><path d="M29.2 360.1 L31.4 362.3 L34.3 362.3 L37.2 358.2 L40.1 360.1 L41.6 361.6" fill="none" stroke="#ff3030" stroke-width="3.0" stroke-linejoin="round" stroke-linecap="round"/><path d="M41.6 361.6 L44.5 368.2 L47.4 374.0 L50.4 381.3 L52.5 387.9" fill="none" stroke="#ff3030" stroke-width="1.0" stroke-linejoin="round" stroke-linecap="round"/><path d="M52.5 387.9 L52.5 389.5 L54.7 393.1 L58.4 394.6 L60.6 401.2 L62.8 406.3 L65.7 407.7 L67.9 413.6 L69.3 409.2 L70.8 401.9 L73.7 395.3 L77.4 391.7 L79.6 384.4 L82.5 385.1 L85.4 385.5 L88.3 384.4 L90.5 382.9" fill="none" stroke="#ff3030" stroke-width="3.0" stroke-linejoin="round" stroke-linecap="round"/><path d="M90.5 382.9 L89.8 382.8 L92.0 378.4 L94.2 376.2 L96.3 374.0 L98.5 370.4 L101.5 366.7 L102.9 364.5" fill="none" stroke="#ff3030" stroke-width="1.0" stroke-linejoin="round" stroke-linecap="round"/><path d="M102.9 364.5 L105.8 362.3 L108.8 358.0 L111.7 353.6 L113.1 352.1 L114.6 355.0 L116.1 359.4 L119.0 361.6 L120.4 362.3" fill="none" stroke="#ff3030" stroke-width="3.0" stroke-linejoin="round" stroke-linecap="round"/><path d="M120.4 362.3 L122.6 365.3 L124.8 363.1" fill="none" stroke="#ff3030" stroke-width="1.0" stroke-linejoin="round" stroke-linecap="round"/><path d="M122.9 365.0 L124.8 362.2" fill="none" stroke="#ff3030" stroke-width="1.0" stroke-linejoin="round" stroke-linecap="round"/><path d="M124.8 362.2 L127.7 353.6 L130.5 344.0 L134.3 335.4 L137.2 335.4 L141.0 338.3 L143.9 340.2 L146.8 340.2 L149.7 343.0 L152.5 334.4 L155.4 336.3 L158.3 338.3 L161.1 339.2 L163.0 344.0 L165.9 353.6 L167.8 362.2" fill="none" stroke="#ff3030" stroke-width="3.0" stroke-linejoin="round" stroke-linecap="round"/><path d="M167.8 362.2 L170.1 372.7 L172.6 384.2 L173.6 393.7" fill="none" stroke="#ff3030" stroke-width="1.0" stroke-linejoin="round" stroke-linecap="round"/><path d="M173.6 393.7 L176.4 407.1 L179.3 422.4 L180.3 427.2 L183.1 428.2 L186.0 416.7 L188.9 417.6 L191.7 411.9 L196.5 413.8 L200.3 422.4 L204.2 433.9 L207.0 434.9 L209.9 424.3 L213.7 412.9" fill="none" stroke="#ff3030" stroke-width="3.0" stroke-linejoin="round" stroke-linecap="round"/><path d="M213.7 412.9 L215.0 406.8 L217.6 399.9 L220.2 391.3 L222.8 384.4" fill="none" stroke="#ff3030" stroke-width="3.0" stroke-linejoin="round" stroke-linecap="round"/><path d="M222.8 384.4 L225.3 374.9 L227.9 376.7 L230.5 379.2" fill="none" stroke="#ff3030" stroke-width="1.0" stroke-linejoin="round" stroke-linecap="round"/><path d="M230.5 379.2 L233.9 381.0 L236.5 387.9 L239.1 396.5 L242.6 403.4 L245.1 394.7 L246.9 384.4 L249.5 381.0 L252.0 380.1 L254.6 384.4 L257.2 381.0 L259.8 384.4 L262.4 382.7 L265.8 381.0 L270.1 379.2 L273.6 380.1 L276.2 381.8" fill="none" stroke="#ff3030" stroke-width="3.0" stroke-linejoin="round" stroke-linecap="round"/><path d="M276.2 381.8 L278.7 372.4 L281.3 363.7 L283.0 360.3" fill="none" stroke="#ff3030" stroke-width="1.0" stroke-linejoin="round" stroke-linecap="round"/><path d="M283.0 360.3 L285.6 354.3 L288.2 349.1 L291.7 356.0 L294.2 350.8 L296.8 343.9 L300.3 336.2 L302.9 344.8 L305.4 347.4 L308.0 346.5 L311.5 343.1 L314.9 334.5 L318.4 331.9 L320.9 329.3 L324.4 328.4 L327.0 334.5 L329.6 337.0 L331.8 337.0" fill="none" stroke="#ff3030" stroke-width="3.0" stroke-linejoin="round" stroke-linecap="round"/><path d="M28.5 389.5 L31.4 394.6 L34.3 398.2 L37.2 393.1 L40.9 393.9 L43.8 399.0 L47.4 399.7 L52.5 401.9 L55.5 409.2 L58.4 418.0 L62.0 419.4 L65.7 414.3 L67.9 402.6 L70.8 399.7 L74.4 398.2 L77.4 399.7 L80.3 404.8 L83.2 408.5 L86.1 409.9 L88.3 404.8 L90.5 397.5 L92.0 385.8 L92.7 382.2 L95.6 385.8" fill="none" stroke="#1e32ff" stroke-width="3.0" stroke-linejoin="round" stroke-linecap="round"/><path d="M95.6 385.7 L98.5 378.4 L101.5 369.6 L102.9 363.8 L103.6 360.9" fill="none" stroke="#1e32ff" stroke-width="1.0" stroke-linejoin="round" stroke-linecap="round"/><path d="M103.6 360.9 L105.8 357.2 L108.8 355.8 L110.9 352.8 L113.1 344.8 L116.1 348.5 L119.0 352.8 L121.9 350.7 L124.1 347.7" fill="none" stroke="#1e32ff" stroke-width="3.0" stroke-linejoin="round" stroke-linecap="round"/><path d="M121.9 350.1 L123.8 347.8 L125.7 345.0" fill="none" stroke="#1e32ff" stroke-width="3.0" stroke-linejoin="round" stroke-linecap="round"/><path d="M125.7 345.0 L127.7 355.5 L129.6 368.9 L131.5 380.3" fill="none" stroke="#1e32ff" stroke-width="1.0" stroke-linejoin="round" stroke-linecap="round"/><path d="M131.5 380.3 L134.3 384.2 L136.3 391.8 L138.2 396.6 L140.1 391.8 L143.0 397.6 L145.8 409.0 L147.7 412.9 L150.6 407.1 L154.4 402.3 L158.3 393.7 L161.7 379.4 L164.0 388.0 L166.9 404.3 L168.8 407.1 L170.7 396.6 L171.6 394.7" fill="none" stroke="#1e32ff" stroke-width="3.0" stroke-linejoin="round" stroke-linecap="round"/><path d="M171.6 394.7 L173.6 380.3 L175.5 370.8 L177.4 365.0 L180.3 367.9 L182.2 357.4 L182.2 348.8" fill="none" stroke="#1e32ff" stroke-width="1.0" stroke-linejoin="round" stroke-linecap="round"/><path d="M182.2 348.8 L186.0 340.2 L187.9 347.8 L189.8 357.4" fill="none" stroke="#1e32ff" stroke-width="3.0" stroke-linejoin="round" stroke-linecap="round"/><path d="M189.8 357.4 L191.7 367.0 L193.6 359.3 L193.6 355.5" fill="none" stroke="#1e32ff" stroke-width="1.0" stroke-linejoin="round" stroke-linecap="round"/><path d="M193.6 355.5 L196.5 345.9 L198.4 344.0 L201.3 351.6 L204.2 342.1 L207.0 329.7 L209.9 334.4 L212.8 344.0" fill="none" stroke="#1e32ff" stroke-width="3.0" stroke-linejoin="round" stroke-linecap="round"/><path d="M212.8 344.0 L215.0 345.6 L217.6 348.2 L219.3 350.8" fill="none" stroke="#1e32ff" stroke-width="3.0" stroke-linejoin="round" stroke-linecap="round"/><path d="M219.3 350.8 L221.9 365.5 L224.5 370.6 L227.1 356.8 L227.9 353.4" fill="none" stroke="#1e32ff" stroke-width="1.0" stroke-linejoin="round" stroke-linecap="round"/><path d="M227.9 353.4 L229.6 348.2 L231.4 345.6" fill="none" stroke="#1e32ff" stroke-width="3.0" stroke-linejoin="round" stroke-linecap="round"/><path d="M231.4 345.6 L233.9 360.3 L236.5 374.1 L240.0 378.4 L243.4 380.1 L246.0 374.9 L247.7 381.0 L248.6 382.7" fill="none" stroke="#1e32ff" stroke-width="1.0" stroke-linejoin="round" stroke-linecap="round"/><path d="M248.6 382.7 L251.2 389.6 L252.9 393.9 L255.5 393.0 L258.1 380.1 L261.5 379.2 L264.1 387.9 L266.7 398.2 L270.1 403.4 L273.6 391.3 L277.0 396.5 L280.5 401.6 L283.9 410.2 L286.5 408.5 L288.2 393.9 L289.1 387.9" fill="none" stroke="#1e32ff" stroke-width="3.0" stroke-linejoin="round" stroke-linecap="round"/><path d="M289.1 387.9 L290.8 381.0 L292.5 375.8 L294.2 382.7 L294.2 384.4" fill="none" stroke="#1e32ff" stroke-width="1.0" stroke-linejoin="round" stroke-linecap="round"/><path d="M294.2 384.4 L296.8 389.6 L297.7 393.9" fill="none" stroke="#1e32ff" stroke-width="3.0" stroke-linejoin="round" stroke-linecap="round"/><path d="M297.7 393.9 L300.3 374.1 L302.0 362.0 L303.7 353.4" fill="none" stroke="#1e32ff" stroke-width="1.0" stroke-linejoin="round" stroke-linecap="round"/><path d="M303.7 353.4 L306.3 349.1 L309.7 351.7 L312.3 359.4 L314.9 349.1 L318.4 340.5 L321.8 337.0 L323.5 341.3 L325.2 350.0" fill="none" stroke="#1e32ff" stroke-width="3.0" stroke-linejoin="round" stroke-linecap="round"/><path d="M325.2 350.0 L327.0 363.7 L328.7 377.5 L331.3 381.8" fill="none" stroke="#1e32ff" stroke-width="1.0" stroke-linejoin="round" stroke-linecap="round"/></g><rect x="28.96" y="274.00" width="302.04" height="193.90" fill="none" stroke="#000" stroke-width="1.5"/><line x1="25.06" y1="467.90" x2="28.96" y2="467.90" stroke="#000" stroke-width="1.3"/><text x="22.76" y="472.80" font-size="12.3" font-weight="bold" text-anchor="end">−6</text><line x1="25.06" y1="435.58" x2="28.96" y2="435.58" stroke="#000" stroke-width="1.3"/><text x="22.76" y="440.48" font-size="12.3" font-weight="bold" text-anchor="end">−4</text><line x1="25.06" y1="403.27" x2="28.96" y2="403.27" stroke="#000" stroke-width="1.3"/><text x="22.76" y="408.17" font-size="12.3" font-weight="bold" text-anchor="end">−2</text><line x1="25.06" y1="370.95" x2="28.96" y2="370.95" stroke="#000" stroke-width="1.3"/><text x="22.76" y="375.85" font-size="12.3" font-weight="bold" text-anchor="end">0</text><line x1="25.06" y1="338.63" x2="28.96" y2="338.63" stroke="#000" stroke-width="1.3"/><text x="22.76" y="343.53" font-size="12.3" font-weight="bold" text-anchor="end">2</text><line x1="25.06" y1="306.32" x2="28.96" y2="306.32" stroke="#000" stroke-width="1.3"/><text x="22.76" y="311.22" font-size="12.3" font-weight="bold" text-anchor="end">4</text><line x1="25.06" y1="274.00" x2="28.96" y2="274.00" stroke="#000" stroke-width="1.3"/><text x="22.76" y="278.90" font-size="12.3" font-weight="bold" text-anchor="end">6</text><line x1="28.96" y1="467.90" x2="28.96" y2="471.40" stroke="#000" stroke-width="1.3"/><text x="29.66" y="482.20" font-size="12.3" font-weight="bold" text-anchor="middle">−50</text><line x1="59.16" y1="467.90" x2="59.16" y2="471.40" stroke="#000" stroke-width="1.3"/><text x="62.16" y="482.20" font-size="12.3" font-weight="bold" text-anchor="middle">−40</text><line x1="89.37" y1="467.90" x2="89.37" y2="471.40" stroke="#000" stroke-width="1.3"/><text x="92.37" y="482.20" font-size="12.3" font-weight="bold" text-anchor="middle">−30</text><line x1="119.57" y1="467.90" x2="119.57" y2="471.40" stroke="#000" stroke-width="1.3"/><text x="122.57" y="482.20" font-size="12.3" font-weight="bold" text-anchor="middle">−20</text><line x1="149.78" y1="467.90" x2="149.78" y2="471.40" stroke="#000" stroke-width="1.3"/><text x="152.78" y="482.20" font-size="12.3" font-weight="bold" text-anchor="middle">−10</text><line x1="179.98" y1="467.90" x2="179.98" y2="471.40" stroke="#000" stroke-width="1.3"/><text x="182.98" y="482.20" font-size="12.3" font-weight="bold" text-anchor="middle">0</text><line x1="210.18" y1="467.90" x2="210.18" y2="471.40" stroke="#000" stroke-width="1.3"/><text x="213.18" y="482.20" font-size="12.3" font-weight="bold" text-anchor="middle">10</text><line x1="240.39" y1="467.90" x2="240.39" y2="471.40" stroke="#000" stroke-width="1.3"/><text x="243.39" y="482.20" font-size="12.3" font-weight="bold" text-anchor="middle">20</text><line x1="270.59" y1="467.90" x2="270.59" y2="471.40" stroke="#000" stroke-width="1.3"/><text x="273.59" y="482.20" font-size="12.3" font-weight="bold" text-anchor="middle">30</text><line x1="300.80" y1="467.90" x2="300.80" y2="471.40" stroke="#000" stroke-width="1.3"/><text x="303.80" y="482.20" font-size="12.3" font-weight="bold" text-anchor="middle">40</text><line x1="331.00" y1="467.90" x2="331.00" y2="471.40" stroke="#000" stroke-width="1.3"/><text x="334.00" y="482.20" font-size="12.3" font-weight="bold" text-anchor="middle">50</text><text x="128.60" y="497.50" font-size="16" textLength="101.5" lengthAdjust="spacingAndGlyphs">Lead/lag year</text><text x="93.00" y="268.10" font-size="16" textLength="181.0" lengthAdjust="spacingAndGlyphs">SAM, IPO (SPEAR_LO)</text><text x="29.40" y="271.20" font-size="18" font-weight="bold">c</text></g>
<g><line x1="369.40" y1="370.95" x2="672.10" y2="370.95" stroke="#000" stroke-width="1.2" stroke-dasharray="1.3 3.25"/><clipPath id="cpd"><rect x="370.00" y="274.00" width="302.10" height="193.90"/></clipPath><g clip-path="url(#cpd)"><path d="M368.5 355.7 C368.8 355.7 368.4 355.9 370.2 355.7 C372.0 355.5 375.9 354.9 379.3 354.5 C382.7 354.2 386.9 353.7 390.7 353.4 C394.4 353.1 398.6 352.9 402.0 352.8 C405.4 352.7 408.3 352.5 411.1 352.8 C414.0 353.1 416.2 353.9 419.1 354.5 C421.9 355.2 425.3 356.0 428.2 356.8 C431.0 357.7 433.9 358.7 436.2 359.7 C438.4 360.6 440.6 361.6 441.8 362.5 C443.1 363.4 442.3 364.0 443.5 365.1 C444.7 366.2 447.3 367.9 449.2 369.1 C451.1 370.2 453.0 371.0 454.9 371.9 C456.8 372.9 458.7 373.9 460.6 374.8 C462.5 375.6 464.4 376.1 466.3 377.0 C468.2 378.0 470.1 379.2 472.0 380.5 C473.9 381.7 475.8 382.9 477.6 384.5 C479.5 386.0 481.4 387.8 483.3 389.6 C485.2 391.4 487.1 393.6 489.0 395.3 C490.9 397.0 492.8 398.1 494.7 399.9 C496.6 401.6 498.5 403.8 500.4 405.6 C502.3 407.3 504.4 408.6 506.1 410.1 C507.8 411.6 508.9 413.3 510.6 414.7 C512.3 416.1 514.7 417.5 516.3 418.4 C518.0 419.4 519.1 420.1 520.5 420.2 C521.9 420.3 522.9 419.8 524.6 419.0 C526.3 418.2 528.6 416.8 530.6 415.5 C532.5 414.2 534.5 412.9 536.5 411.3 C538.5 409.7 540.4 407.8 542.4 406.0 C544.4 404.1 546.4 402.2 548.3 400.0 C550.3 397.8 552.3 395.3 554.3 392.9 C556.3 390.5 558.2 388.1 560.2 385.7 C562.2 383.4 564.2 380.7 566.1 378.6 C568.1 376.5 570.1 374.8 572.1 373.3 C574.0 371.7 576.0 370.3 578.0 369.1 C580.0 367.9 581.7 367.3 583.9 366.1 C586.2 365.0 589.6 363.3 591.4 362.2 C593.3 361.1 593.7 360.5 595.2 359.7 C596.7 358.8 598.3 358.0 600.2 357.2 C602.1 356.3 604.4 355.3 606.5 354.7 C608.6 354.0 610.7 353.7 612.8 353.4 C614.9 353.1 616.9 352.9 619.0 352.8 C621.1 352.6 623.2 352.4 625.3 352.4 C627.4 352.4 629.5 352.4 631.6 352.5 C633.7 352.6 635.8 352.8 637.9 353.0 C639.9 353.3 642.0 353.8 644.1 354.0 C646.2 354.3 648.3 354.6 650.4 354.7 C652.5 354.7 654.6 354.5 656.7 354.4 C658.8 354.3 661.1 354.2 662.9 354.3 C664.8 354.3 666.7 354.4 668.0 354.7 C669.2 354.9 669.8 355.5 670.5 355.7 C671.2 355.9 671.9 355.9 672.2 355.9" fill="none" stroke="#000" stroke-width="3.2" stroke-linejoin="round" stroke-linecap="round"/><path d="M368.0 400.3 C369.1 400.5 372.5 401.1 374.7 401.4 C377.0 401.7 379.2 401.9 381.5 401.9 C383.7 401.9 386.0 401.6 388.2 401.4 C390.5 401.2 392.7 400.5 395.0 400.7 C397.2 400.9 399.8 402.1 401.7 402.5 C403.6 402.9 404.3 403.3 406.2 403.2 C408.1 403.1 410.7 402.6 413.0 402.1 C415.2 401.6 417.7 401.1 419.7 400.3 C421.7 399.5 422.4 398.6 425.0 397.3 C427.6 396.0 431.8 394.2 435.2 392.2 C438.6 390.2 442.5 387.5 445.4 385.1 C448.3 382.7 451.4 379.1 452.6 377.9" fill="none" stroke="#ff3030" stroke-width="3.0" stroke-linejoin="round" stroke-linecap="round"/><path d="M452.6 377.9 C452.6 377.9 451.6 378.9 452.6 377.9 C453.6 376.9 457.0 373.8 458.7 371.8 C460.4 369.9 462.1 367.1 462.8 366.2 C463.5 365.3 462.8 366.2 462.8 366.2" fill="none" stroke="#ff3030" stroke-width="1.0" stroke-linejoin="round" stroke-linecap="round"/><path d="M462.8 366.2 C463.6 365.2 466.2 362.3 467.9 360.5 C469.6 358.7 471.3 357.4 473.0 355.4 C474.7 353.4 476.6 350.7 478.1 348.3 C479.6 345.9 480.7 344.1 482.2 341.1 C483.7 338.1 485.2 333.8 487.2 330.6 C489.1 327.3 491.6 324.6 493.9 321.6 C496.1 318.6 498.4 315.6 500.6 312.6 C502.9 309.6 505.1 306.4 507.4 303.6 C509.6 300.8 512.4 298.0 514.1 295.7 C515.9 293.5 516.6 291.2 518.0 290.1 C519.4 289.0 521.0 288.8 522.5 289.0 C524.0 289.2 525.5 290.1 527.0 291.2 C528.5 292.4 530.0 294.1 531.5 295.7 C533.0 297.4 534.5 299.5 536.0 301.4 C537.5 303.2 539.0 304.9 540.5 307.0 C542.0 309.0 543.5 311.5 545.0 313.7 C546.5 316.0 548.0 318.0 549.5 320.5 C551.0 322.9 552.5 325.5 554.0 328.3 C555.5 331.1 557.0 334.1 558.5 337.3 C560.0 340.5 561.5 344.3 563.0 347.4 C564.5 350.6 566.0 353.8 567.5 356.4 C569.0 359.1 570.5 361.1 572.0 363.2 C573.5 365.2 575.0 367.3 576.5 368.8 C578.0 370.3 579.5 370.9 580.9 372.2 C582.4 373.5 583.9 375.0 585.4 376.7 C586.9 378.4 588.4 380.4 589.9 382.3 C591.4 384.2 592.9 386.2 594.4 387.9 C595.9 389.6 597.4 391.3 598.9 392.4 C600.4 393.5 601.9 393.9 603.4 394.7 C604.9 395.4 606.1 396.2 607.9 396.9 C609.8 397.7 612.4 398.5 614.7 399.2 C616.9 399.8 619.2 400.4 621.4 401.0 C623.7 401.5 625.9 402.3 628.2 402.5 C630.4 402.7 632.7 402.3 634.9 402.1 C637.2 401.9 639.4 401.6 641.6 401.4 C643.9 401.2 646.5 401.0 648.4 401.0 C650.3 401.0 651.4 401.1 652.9 401.4 C654.4 401.7 655.5 402.3 657.4 402.5 C659.3 402.7 662.3 402.7 664.1 402.5 C666.0 402.3 667.4 401.8 668.6 401.4 C669.8 401.0 670.9 400.5 671.3 400.3" fill="none" stroke="#ff3030" stroke-width="3.0" stroke-linejoin="round" stroke-linecap="round"/><path d="M368.0 394.7 C369.5 394.7 374.0 395.0 377.0 395.1 C380.0 395.2 383.0 395.3 386.0 395.3 C389.0 395.4 392.0 395.3 395.0 395.3 C398.0 395.4 401.0 396.0 404.0 395.8 C407.0 395.6 410.0 395.0 413.0 394.2 C416.0 393.5 420.0 391.9 422.0 391.3 C424.0 390.7 422.8 391.6 425.0 390.7 C427.2 389.8 431.8 387.9 435.2 386.1 C438.6 384.3 442.2 382.1 445.4 380.0 C448.6 377.9 453.1 374.8 454.6 373.8" fill="none" stroke="#7a00dc" stroke-width="3.0" stroke-linejoin="round" stroke-linecap="round"/><path d="M454.6 373.8 C454.6 373.8 453.8 374.2 454.6 373.8 C455.5 373.4 457.8 372.3 459.7 371.3 C461.6 370.3 464.9 368.3 465.9 367.7 C466.9 367.1 465.9 367.7 465.9 367.7" fill="none" stroke="#7a00dc" stroke-width="1.0" stroke-linejoin="round" stroke-linecap="round"/><path d="M465.9 367.7 C466.8 366.9 469.3 364.7 471.0 362.6 C472.7 360.6 474.4 357.9 476.1 355.4 C477.8 352.8 479.4 350.7 481.2 347.3 C483.0 343.9 485.0 338.8 487.2 335.1 C489.3 331.4 491.6 328.1 493.9 325.0 C496.1 321.8 498.4 319.0 500.6 316.0 C502.9 313.0 505.1 309.2 507.4 307.0 C509.6 304.7 512.4 303.3 514.1 302.5 C515.9 301.6 516.6 301.4 518.0 301.8 C519.4 302.2 521.0 303.5 522.5 304.7 C524.0 306.0 525.5 307.5 527.0 309.2 C528.5 310.9 530.0 313.0 531.5 314.8 C533.0 316.7 534.5 318.4 536.0 320.5 C537.5 322.5 539.0 325.0 540.5 327.2 C542.0 329.5 543.5 331.7 545.0 334.0 C546.5 336.2 548.0 338.5 549.5 340.7 C551.0 342.9 552.5 345.2 554.0 347.4 C555.5 349.7 557.0 352.1 558.5 354.2 C560.0 356.3 561.5 358.1 563.0 359.8 C564.5 361.5 566.0 363.0 567.5 364.3 C569.0 365.6 570.5 366.6 572.0 367.7 C573.5 368.8 575.0 369.9 576.5 371.1 C578.0 372.2 579.5 373.3 580.9 374.4 C582.4 375.5 583.9 376.7 585.4 377.8 C586.9 378.9 588.4 380.2 589.9 381.2 C591.4 382.1 592.9 382.7 594.4 383.4 C595.9 384.2 597.4 385.0 598.9 385.7 C600.4 386.3 601.9 386.9 603.4 387.5 C604.9 388.0 606.1 388.4 607.9 389.0 C609.8 389.7 612.4 390.5 614.7 391.3 C616.9 392.0 619.2 392.9 621.4 393.5 C623.7 394.2 625.9 394.7 628.2 395.1 C630.4 395.5 632.7 395.7 634.9 395.8 C637.2 395.9 639.4 395.9 641.6 395.8 C643.9 395.7 646.1 395.0 648.4 395.1 C650.6 395.2 652.9 396.0 655.1 396.2 C657.4 396.5 659.6 396.6 661.9 396.5 C664.1 396.3 667.1 395.6 668.6 395.1 C670.2 394.6 670.9 393.8 671.3 393.5" fill="none" stroke="#7a00dc" stroke-width="3.0" stroke-linejoin="round" stroke-linecap="round"/><path d="M368.0 392.4 C369.5 392.3 374.0 392.0 377.0 391.7 C380.0 391.4 383.0 390.9 386.0 390.6 C389.0 390.3 392.0 389.9 395.0 389.7 C398.0 389.5 401.3 389.7 404.0 389.5 C406.6 389.3 408.5 389.2 410.7 388.6 C413.0 387.9 415.1 386.6 417.5 385.7 C419.8 384.7 422.0 384.3 425.0 383.0 C428.0 381.7 431.8 379.6 435.2 377.9 C438.6 376.2 441.5 375.4 445.4 372.8 C449.3 370.2 455.3 365.2 458.7 362.6 C462.1 360.0 463.0 359.1 465.9 357.0 C468.8 354.9 472.7 352.9 476.1 350.3 C479.5 347.7 483.2 343.3 486.3 341.1 C489.4 338.9 493.0 338.0 495.0 337.0 C497.0 336.0 496.7 336.1 498.4 335.1 C500.1 334.0 502.9 331.6 505.1 330.6 C507.4 329.6 509.7 329.4 511.9 329.0 C514.0 328.6 515.9 328.0 518.0 328.3 C520.1 328.7 522.5 330.1 524.7 331.3 C527.0 332.4 529.2 333.8 531.5 335.1 C533.7 336.4 536.0 337.6 538.2 338.9 C540.5 340.2 542.7 341.3 545.0 342.9 C547.2 344.6 549.8 346.9 551.7 348.6 C553.6 350.3 554.7 351.4 556.2 353.1 C557.7 354.8 559.2 357.0 560.7 358.7 C562.2 360.4 563.7 361.9 565.2 363.2 C566.7 364.5 568.2 365.5 569.7 366.6 C571.2 367.6 572.7 368.5 574.2 369.5 C575.7 370.4 577.2 371.2 578.7 372.2 C580.2 373.2 581.3 374.4 583.2 375.5 C585.1 376.7 587.7 377.9 589.9 378.9 C592.2 379.9 594.4 380.7 596.7 381.6 C598.9 382.6 601.2 383.7 603.4 384.5 C605.7 385.4 607.9 386.1 610.2 386.8 C612.4 387.5 614.7 388.1 616.9 388.6 C619.2 389.1 621.4 389.4 623.7 389.7 C625.9 390.0 628.2 390.3 630.4 390.6 C632.7 390.9 634.9 391.6 637.2 391.7 C639.4 391.8 641.6 391.5 643.9 391.3 C646.1 391.1 648.4 390.7 650.6 390.6 C652.9 390.5 655.1 390.9 657.4 390.8 C659.6 390.8 662.3 390.6 664.1 390.2 C666.0 389.7 667.4 388.9 668.6 388.4 C669.8 387.8 670.9 387.1 671.3 386.8" fill="none" stroke="#00c8c8" stroke-width="3.4" stroke-linejoin="round" stroke-linecap="round"/><path d="M368.0 378.2 C369.5 378.2 374.0 378.1 377.0 378.0 C380.0 377.9 383.0 377.9 386.0 377.8 C389.0 377.7 392.0 377.5 395.0 377.3 C398.0 377.2 401.0 377.2 404.0 377.1 C407.0 377.0 410.0 376.9 413.0 376.7 C416.0 376.4 420.0 375.6 422.0 375.5 C424.0 375.5 422.8 376.5 425.0 376.4 C427.2 376.3 431.8 375.4 435.2 374.9 C438.6 374.4 442.0 373.8 445.4 373.3 C448.8 372.8 452.3 372.5 455.7 372.0 C459.1 371.5 462.5 371.0 465.9 370.3 C469.3 369.6 472.7 368.7 476.1 367.7 C479.5 366.7 483.2 365.2 486.3 364.1 C489.4 363.0 493.0 361.8 495.0 361.1 C497.0 360.4 496.7 360.4 498.4 359.8 C500.1 359.2 502.9 358.3 505.1 357.6 C507.4 356.8 509.7 355.9 511.9 355.3 C514.0 354.8 515.9 354.4 518.0 354.2 C520.1 354.0 522.5 354.0 524.7 354.2 C527.0 354.4 529.2 354.9 531.5 355.3 C533.7 355.8 536.0 356.3 538.2 356.9 C540.5 357.4 542.7 358.0 545.0 358.7 C547.2 359.4 549.5 360.1 551.7 360.9 C554.0 361.8 556.2 362.7 558.5 363.6 C560.7 364.6 563.0 365.7 565.2 366.6 C567.5 367.4 569.7 368.1 572.0 368.8 C574.2 369.6 576.5 370.3 578.7 371.1 C580.9 371.8 583.2 372.7 585.4 373.3 C587.7 373.9 589.9 374.0 592.2 374.4 C594.4 374.8 596.7 375.2 598.9 375.5 C601.2 375.9 603.4 376.4 605.7 376.7 C607.9 376.9 610.2 376.9 612.4 377.1 C614.7 377.3 616.9 377.6 619.2 377.8 C621.4 378.0 623.7 378.4 625.9 378.5 C628.2 378.5 630.4 378.3 632.7 378.2 C634.9 378.2 637.2 378.0 639.4 378.0 C641.6 378.0 643.9 378.2 646.1 378.2 C648.4 378.3 650.6 378.5 652.9 378.5 C655.1 378.5 657.4 378.4 659.6 378.2 C661.9 378.1 664.4 377.9 666.4 377.8 C668.3 377.7 670.5 377.8 671.3 377.8" fill="none" stroke="#1e32ff" stroke-width="3.0" stroke-linejoin="round" stroke-linecap="round"/><path d="M368.0 383.9 C369.5 383.6 374.0 382.7 377.0 382.3 C380.0 381.8 383.0 381.6 386.0 381.2 C389.0 380.7 392.0 380.2 395.0 379.6 C398.0 379.0 401.0 378.5 404.0 377.8 C407.0 377.1 410.0 376.5 413.0 375.5 C416.0 374.6 420.0 373.1 422.0 372.2 C424.0 371.2 422.8 371.0 425.0 369.7 C427.2 368.4 431.8 365.5 435.2 364.1 C438.6 362.7 442.0 362.0 445.4 361.1 C448.8 360.2 452.3 359.3 455.7 358.5 C459.1 357.7 462.5 357.5 465.9 356.5 C469.3 355.5 472.7 353.9 476.1 352.4 C479.5 350.9 483.2 348.8 486.3 347.3 C489.4 345.9 492.6 344.7 495.0 343.7 C497.4 342.7 499.0 341.7 500.6 341.2 C502.3 340.7 503.3 340.4 505.1 340.7 C507.0 341.0 509.8 342.0 511.9 342.9 C513.9 343.9 515.4 345.4 517.5 346.3 C519.6 347.3 522.4 347.6 524.7 348.6 C527.1 349.5 529.2 350.8 531.5 351.9 C533.7 353.1 536.0 354.0 538.2 355.3 C540.5 356.6 542.7 358.3 545.0 359.8 C547.2 361.3 549.5 362.8 551.7 364.3 C554.0 365.8 556.2 367.5 558.5 368.8 C560.7 370.1 563.0 371.1 565.2 372.2 C567.5 373.3 569.7 374.4 572.0 375.5 C574.2 376.7 576.5 378.0 578.7 378.9 C580.9 379.9 583.2 380.4 585.4 381.2 C587.7 381.9 589.9 382.9 592.2 383.4 C594.4 384.0 596.7 384.2 598.9 384.5 C601.2 384.9 603.4 385.4 605.7 385.7 C607.9 386.0 610.2 386.2 612.4 386.3 C614.7 386.5 616.9 386.6 619.2 386.8 C621.4 386.9 623.7 387.2 625.9 387.2 C628.2 387.3 630.4 387.2 632.7 387.0 C634.9 386.9 637.2 386.6 639.4 386.3 C641.6 386.1 643.9 385.8 646.1 385.7 C648.4 385.6 650.6 385.9 652.9 385.7 C655.1 385.5 657.4 385.1 659.6 384.5 C661.9 384.0 664.4 383.0 666.4 382.3 C668.3 381.5 670.5 380.4 671.3 380.0" fill="none" stroke="#f07820" stroke-width="3.0" stroke-linejoin="round" stroke-linecap="round"/></g><rect x="370.00" y="274.00" width="302.10" height="193.90" fill="none" stroke="#000" stroke-width="1.5"/><line x1="366.10" y1="467.90" x2="370.00" y2="467.90" stroke="#000" stroke-width="1.3"/><text x="363.80" y="472.80" font-size="12.3" font-weight="bold" text-anchor="end">−6</text><line x1="366.10" y1="435.58" x2="370.00" y2="435.58" stroke="#000" stroke-width="1.3"/><text x="363.80" y="440.48" font-size="12.3" font-weight="bold" text-anchor="end">−4</text><line x1="366.10" y1="403.27" x2="370.00" y2="403.27" stroke="#000" stroke-width="1.3"/><text x="363.80" y="408.17" font-size="12.3" font-weight="bold" text-anchor="end">−2</text><line x1="366.10" y1="370.95" x2="370.00" y2="370.95" stroke="#000" stroke-width="1.3"/><text x="363.80" y="375.85" font-size="12.3" font-weight="bold" text-anchor="end">0</text><line x1="366.10" y1="338.63" x2="370.00" y2="338.63" stroke="#000" stroke-width="1.3"/><text x="363.80" y="343.53" font-size="12.3" font-weight="bold" text-anchor="end">2</text><line x1="366.10" y1="306.32" x2="370.00" y2="306.32" stroke="#000" stroke-width="1.3"/><text x="363.80" y="311.22" font-size="12.3" font-weight="bold" text-anchor="end">4</text><line x1="366.10" y1="274.00" x2="370.00" y2="274.00" stroke="#000" stroke-width="1.3"/><text x="363.80" y="278.90" font-size="12.3" font-weight="bold" text-anchor="end">6</text><line x1="370.00" y1="467.90" x2="370.00" y2="471.40" stroke="#000" stroke-width="1.3"/><text x="370.70" y="482.20" font-size="12.3" font-weight="bold" text-anchor="middle">−50</text><line x1="400.21" y1="467.90" x2="400.21" y2="471.40" stroke="#000" stroke-width="1.3"/><text x="403.21" y="482.20" font-size="12.3" font-weight="bold" text-anchor="middle">−40</text><line x1="430.42" y1="467.90" x2="430.42" y2="471.40" stroke="#000" stroke-width="1.3"/><text x="433.42" y="482.20" font-size="12.3" font-weight="bold" text-anchor="middle">−30</text><line x1="460.63" y1="467.90" x2="460.63" y2="471.40" stroke="#000" stroke-width="1.3"/><text x="463.63" y="482.20" font-size="12.3" font-weight="bold" text-anchor="middle">−20</text><line x1="490.84" y1="467.90" x2="490.84" y2="471.40" stroke="#000" stroke-width="1.3"/><text x="493.84" y="482.20" font-size="12.3" font-weight="bold" text-anchor="middle">−10</text><line x1="521.05" y1="467.90" x2="521.05" y2="471.40" stroke="#000" stroke-width="1.3"/><text x="524.05" y="482.20" font-size="12.3" font-weight="bold" text-anchor="middle">0</text><line x1="551.26" y1="467.90" x2="551.26" y2="471.40" stroke="#000" stroke-width="1.3"/><text x="554.26" y="482.20" font-size="12.3" font-weight="bold" text-anchor="middle">10</text><line x1="581.47" y1="467.90" x2="581.47" y2="471.40" stroke="#000" stroke-width="1.3"/><text x="584.47" y="482.20" font-size="12.3" font-weight="bold" text-anchor="middle">20</text><line x1="611.68" y1="467.90" x2="611.68" y2="471.40" stroke="#000" stroke-width="1.3"/><text x="614.68" y="482.20" font-size="12.3" font-weight="bold" text-anchor="middle">30</text><line x1="641.89" y1="467.90" x2="641.89" y2="471.40" stroke="#000" stroke-width="1.3"/><text x="644.89" y="482.20" font-size="12.3" font-weight="bold" text-anchor="middle">40</text><line x1="672.10" y1="467.90" x2="672.10" y2="471.40" stroke="#000" stroke-width="1.3"/><text x="675.10" y="482.20" font-size="12.3" font-weight="bold" text-anchor="middle">50</text><text x="472.60" y="494.90" font-size="16" textLength="101.5" lengthAdjust="spacingAndGlyphs">Lead/lag year</text><text x="408.60" y="269.60" font-size="16" textLength="230.4" lengthAdjust="spacingAndGlyphs">Ocean Variables (SPEAR_LO)</text><text x="370.80" y="270.70" font-size="18" font-weight="bold">d</text></g>
<g><line x1="29.50" y1="627.55" x2="332.50" y2="627.55" stroke="#000" stroke-width="1.2" stroke-dasharray="1.3 3.25"/><clipPath id="cpe"><rect x="30.10" y="530.80" width="302.40" height="193.50"/></clipPath><g clip-path="url(#cpe)"><path d="M29.8 641.4 L30.9 636.7 L32.7 633.8 L35.0 635.0 L37.3 635.0 L39.7 632.6 L42.6 630.9 L45.5 628.5 L47.9 629.7 L50.2 634.4 L53.1 637.9 L54.9 639.1 L57.2 636.7 L59.5 635.5 L61.9 636.7 L63.0 637.9 L65.4 636.1 L67.7 633.2 L70.6 630.3 L72.4 628.0 L74.7 625.0 L77.1 626.2 L79.4 627.4 L81.7 627.4 L84.1 626.2 L86.4 625.0 L88.7 624.5 L91.1 623.9 L93.4 622.1 L95.7 620.9 L98.1 617.4 L100.4 613.4 L102.7 611.0 L105.1 609.3" fill="none" stroke="#000" stroke-width="3.0" stroke-linejoin="round" stroke-linecap="round"/><path d="M105.0 609.2 L107.3 607.4 L110.8 608.6 L114.3 611.5 L116.7 612.7 L119.0 610.9 L122.5 609.8 L124.9 609.8 L127.2 607.4 L129.5 606.3 L133.0 608.0 L136.5 608.0 L138.9 609.2 L141.2 607.4 L144.7 604.5 L148.2 606.9 L150.5 609.8 L152.9 610.4 L155.2 609.8 L157.6 607.4 L159.9 602.2 L162.2 605.1 L164.6 606.3 L168.1 604.5 L171.6 605.1 L175.1 607.4 L177.4 613.9 L179.7 617.4" fill="none" stroke="#000" stroke-width="3.0" stroke-linejoin="round" stroke-linecap="round"/><path d="M179.7 617.4 L180.0 617.9 L184.0 616.6" fill="none" stroke="#000" stroke-width="3.0" stroke-linejoin="round" stroke-linecap="round"/><path d="M184.0 616.6 L186.6 622.5 L189.2 631.7 L192.5 634.4" fill="none" stroke="#000" stroke-width="1.0" stroke-linejoin="round" stroke-linecap="round"/><path d="M192.5 634.4 L194.5 632.4 L196.5 629.7 L198.5 631.7 L201.1 637.7 L203.7 641.0 L206.4 643.6" fill="none" stroke="#000" stroke-width="3.0" stroke-linejoin="round" stroke-linecap="round"/><path d="M206.4 643.6 L210.3 646.9 L214.3 650.2 L216.9 652.8 L218.3 651.5" fill="none" stroke="#000" stroke-width="1.0" stroke-linejoin="round" stroke-linecap="round"/><path d="M218.3 651.5 L220.9 646.9 L224.9 644.9 L228.8 647.6 L232.8 642.3 L235.4 641.0 L238.0 642.3 L240.7 644.9 L243.3 643.6 L246.0 642.9 L248.6 644.9 L251.9 647.6 L253.9 646.9 L255.9 642.3" fill="none" stroke="#000" stroke-width="3.0" stroke-linejoin="round" stroke-linecap="round"/><path d="M255.9 642.3 L257.3 636.7 L259.7 634.4 L262.6 633.2 L265.5 636.1 L269.0 636.7 L272.5 637.3 L275.4 636.1 L279.5 637.9 L281.3 637.3 L283.0 634.4 L285.9 630.9 L288.9 629.7 L291.2 628.5" fill="none" stroke="#000" stroke-width="3.0" stroke-linejoin="round" stroke-linecap="round"/><path d="M291.2 628.5 L294.7 626.8 L297.0 626.2 L299.4 627.4 L301.7 628.5 L304.1 628.5 L306.4 630.3 L308.1 633.2" fill="none" stroke="#000" stroke-width="1.0" stroke-linejoin="round" stroke-linecap="round"/><path d="M308.1 633.2 L311.1 630.9 L314.6 631.5 L318.1 633.2 L320.4 635.0 L322.7 633.2 L324.5 630.9" fill="none" stroke="#000" stroke-width="3.0" stroke-linejoin="round" stroke-linecap="round"/><path d="M324.5 630.9 L327.4 628.5 L330.9 628.5 L332.3 628.5" fill="none" stroke="#000" stroke-width="1.0" stroke-linejoin="round" stroke-linecap="round"/><path d="M30.1 621.5 L30.9 617.4" fill="none" stroke="#ff3030" stroke-width="1.0" stroke-linejoin="round" stroke-linecap="round"/><path d="M30.9 617.4 L30.9 616.3 L31.5 614.5 L33.8 615.1 L37.3 616.3 L40.8 613.4 L44.4 611.6 L47.9 609.9 L49.6 611.6 L51.4 616.9" fill="none" stroke="#ff3030" stroke-width="3.0" stroke-linejoin="round" stroke-linecap="round"/><path d="M51.4 616.9 L53.1 622.7 L54.9 625.0 L58.4 623.9 L60.7 625.0 L63.0 627.4 L65.4 628.0 L67.7 627.4 L70.0 626.2 L72.4 624.5 L74.7 623.3 L77.1 625.0 L79.4 627.4 L81.7 629.1 L84.1 630.3 L86.4 630.9 L88.7 630.3 L89.9 631.5" fill="none" stroke="#ff3030" stroke-width="1.0" stroke-linejoin="round" stroke-linecap="round"/><path d="M89.9 631.5 L92.2 635.5 L94.6 636.7 L96.9 636.1 L99.2 633.8" fill="none" stroke="#ff3030" stroke-width="3.0" stroke-linejoin="round" stroke-linecap="round"/><path d="M99.2 633.8 L99.2 633.2 L101.6 630.9 L103.9 627.4 L106.2 627.4" fill="none" stroke="#ff3030" stroke-width="1.0" stroke-linejoin="round" stroke-linecap="round"/><path d="M105.0 629.1 L108.5 630.2 L112.0 631.4 L113.2 632.6" fill="none" stroke="#ff3030" stroke-width="1.0" stroke-linejoin="round" stroke-linecap="round"/><path d="M113.2 632.6 L114.9 634.3 L116.7 632.6" fill="none" stroke="#ff3030" stroke-width="3.0" stroke-linejoin="round" stroke-linecap="round"/><path d="M116.7 632.6 L119.0 629.1 L122.5 628.5 L126.0 627.9 L128.4 630.2 L129.5 631.4" fill="none" stroke="#ff3030" stroke-width="1.0" stroke-linejoin="round" stroke-linecap="round"/><path d="M129.5 631.4 L133.0 632.6 L136.5 633.7 L140.0 634.9 L142.4 633.7 L144.7 631.4 L147.0 633.1 L149.4 636.1 L151.7 637.2 L155.2 634.3 L157.6 633.1" fill="none" stroke="#ff3030" stroke-width="3.0" stroke-linejoin="round" stroke-linecap="round"/><path d="M157.6 633.1 L158.1 632.6 L159.3 626.7 L161.1 625.5 L163.4 626.7 L165.7 629.1 L168.1 626.1 L170.4 623.2 L171.6 618.5" fill="none" stroke="#ff3030" stroke-width="1.0" stroke-linejoin="round" stroke-linecap="round"/><path d="M171.6 618.5 L173.9 612.7 L175.1 610.4 L176.8 613.9 L178.6 615.0" fill="none" stroke="#ff3030" stroke-width="3.0" stroke-linejoin="round" stroke-linecap="round"/><path d="M178.6 615.0 L180.0 614.6 L182.0 610.6 L184.0 606.7 L185.9 611.9 L187.9 617.2 L190.6 622.5" fill="none" stroke="#ff3030" stroke-width="3.0" stroke-linejoin="round" stroke-linecap="round"/><path d="M190.6 622.5 L193.2 622.5 L195.2 619.9 L196.5 618.5" fill="none" stroke="#ff3030" stroke-width="1.0" stroke-linejoin="round" stroke-linecap="round"/><path d="M196.5 618.5 L198.5 620.5 L200.4 622.5" fill="none" stroke="#ff3030" stroke-width="3.0" stroke-linejoin="round" stroke-linecap="round"/><path d="M200.4 622.5 L202.4 627.8 L203.7 633.0 L205.1 636.3" fill="none" stroke="#ff3030" stroke-width="1.0" stroke-linejoin="round" stroke-linecap="round"/><path d="M205.1 636.3 L207.7 636.3 L210.3 638.3 L213.0 642.3 L215.6 648.2 L218.3 652.8 L220.9 655.5 L223.5 648.2 L226.2 650.2 L228.8 655.5 L231.5 652.8 L235.4 650.2 L238.0 651.5 L240.7 654.8 L243.3 654.2 L246.0 653.5 L249.9 652.8 L253.2 652.2 L255.9 644.9" fill="none" stroke="#ff3030" stroke-width="3.0" stroke-linejoin="round" stroke-linecap="round"/><path d="M255.9 644.9 L258.5 641.4 L262.0 636.7 L265.5 639.6 L269.0 640.2 L273.7 640.8 L277.2 641.4 L280.7 643.7 L283.0 637.9 L285.4 634.4 L288.9 632.0 L291.2 630.3 L293.5 627.4 L295.9 625.6 L298.2 623.9 L301.7 623.3 L305.2 622.7 L307.6 625.0" fill="none" stroke="#ff3030" stroke-width="3.0" stroke-linejoin="round" stroke-linecap="round"/><path d="M307.6 625.0 L308.7 624.5 L310.5 623.3 L313.4 622.7 L316.9 621.5 L320.4 620.9 L325.1 620.6 L329.7 620.1 L332.3 619.8" fill="none" stroke="#ff3030" stroke-width="1.0" stroke-linejoin="round" stroke-linecap="round"/><path d="M29.2 633.2 L31.5 633.8 L33.8 633.8 L37.3 632.6 L39.7 631.5 L42.6 630.3 L44.9 631.5 L46.7 633.8 L49.0 636.1 L52.5 635.5 L56.0 634.4 L59.5 634.1 L63.0 634.4 L65.4 633.2 L67.7 631.5 L70.0 630.3" fill="none" stroke="#1e32ff" stroke-width="3.0" stroke-linejoin="round" stroke-linecap="round"/><path d="M70.0 630.3 L73.5 628.5 L77.1 627.4 L79.4 626.2 L81.7 624.5" fill="none" stroke="#1e32ff" stroke-width="1.0" stroke-linejoin="round" stroke-linecap="round"/><path d="M81.7 624.5 L81.7 623.9 L84.1 623.3 L86.4 622.1 L88.7 620.9 L90.5 618.6 L92.2 614.5 L94.6 611.6 L98.1 609.9 L101.6 608.7 L105.1 606.9 L107.3 605.1 L110.8 602.8 L114.3 602.2 L117.8 603.9 L122.5 604.5 L126.0 603.4 L129.5 601.0 L134.2 599.3 L137.7 598.1 L142.4 597.8 L145.9 598.7 L150.5 599.9 L154.1 601.0 L157.6 603.4 L161.1 606.3 L164.6 609.8 L168.1 613.9 L169.8 617.4 L171.6 623.2 L173.3 629.1 L175.1 634.9 L177.4 639.6 L179.7 644.2 L182.6 650.2 L185.3 654.8 L189.2 658.8 L193.2 660.8 L197.2 664.1 L201.1 666.0 L205.1 664.7 L209.0 662.7 L213.0 659.4 L215.6 656.8 L218.3 651.5 L220.9 646.2 L223.5 642.3 L226.2 639.6 L228.8 635.0 L230.1 630.4 L232.8 625.8 L236.7 623.2 L240.7 619.9 L244.6 615.2 L248.6 613.3 L253.9 613.0 L259.7 613.4 L263.2 612.2 L266.7 609.9 L271.4 608.7 L276.0 608.1 L280.7 607.5 L284.2 608.7 L288.9 609.3 L292.4 611.6 L294.7 613.9 L298.2 615.1 L301.7 616.9 L305.2 619.8 L309.9 621.5 L314.6 622.7 L319.2 623.3 L323.9 622.7 L327.4 621.8 L330.9 620.6 L332.3 620.1" fill="none" stroke="#1e32ff" stroke-width="3.0" stroke-linejoin="round" stroke-linecap="round"/><path d="M29.2 649.6 C29.8 649.6 31.3 649.5 32.7 649.6 C34.0 649.7 36.0 650.1 37.3 650.1 C38.7 650.1 39.5 650.0 40.8 649.6 C42.2 649.2 44.2 648.3 45.5 647.8 C46.9 647.3 47.9 647.2 49.0 646.6 C50.2 646.1 51.4 645.1 52.5 644.3 C53.7 643.5 54.7 642.5 56.0 642.0 C57.4 641.5 59.1 641.8 60.7 641.4 C62.3 641.0 63.8 640.2 65.4 639.6 C66.9 639.1 68.5 638.3 70.0 637.9 C71.6 637.5 73.2 637.4 74.7 637.3 C76.3 637.2 77.8 637.5 79.4 637.3 C80.9 637.1 82.7 636.6 84.1 636.1 C85.4 635.6 86.4 635.0 87.6 634.4 C88.7 633.8 89.9 633.0 91.1 632.6 C92.2 632.2 93.4 632.1 94.6 632.0 C95.7 631.9 96.7 632.2 98.1 632.0 C99.4 631.8 101.6 631.0 102.7 630.9 C103.9 630.8 104.0 631.6 105.0 631.4 C106.0 631.2 107.3 630.1 108.5 629.6 C109.7 629.1 110.6 628.9 112.0 628.5 C113.4 628.1 115.1 627.7 116.7 627.3 C118.2 626.9 120.0 626.5 121.4 626.1 C122.7 625.7 123.7 625.5 124.9 625.0 C126.0 624.5 127.2 623.7 128.4 623.2 C129.5 622.7 130.7 622.4 131.9 622.0 C133.0 621.7 134.2 621.4 135.4 620.9 C136.5 620.4 137.7 619.7 138.9 619.1 C140.0 618.5 141.2 618.1 142.4 617.4 C143.5 616.7 144.7 615.8 145.9 615.0 C147.0 614.3 148.2 613.3 149.4 612.7 C150.5 612.1 151.7 612.0 152.9 611.5 C154.1 611.0 155.4 610.4 156.4 609.8 C157.4 609.2 157.7 608.9 158.7 608.0 C159.7 607.2 161.1 605.7 162.2 604.5 C163.4 603.4 164.6 602.2 165.7 601.0 C166.9 599.9 168.1 598.6 169.2 597.5 C170.4 596.4 171.6 595.5 172.7 594.6 C173.9 593.7 175.1 593.1 176.2 592.3 C177.4 591.4 178.5 590.0 179.7 589.3 C181.0 588.7 182.6 588.7 184.0 588.2 C185.3 587.7 186.4 586.8 187.9 586.2 C189.5 585.7 191.7 585.3 193.2 584.9 C194.7 584.5 195.8 583.9 197.2 583.6 C198.5 583.2 199.8 582.9 201.1 582.9 C202.4 582.9 203.7 583.1 205.1 583.6 C206.4 584.0 207.7 584.5 209.0 585.6 C210.3 586.7 211.7 588.5 213.0 590.2 C214.3 591.8 215.6 593.7 216.9 595.4 C218.3 597.2 219.6 599.0 220.9 600.7 C222.2 602.5 223.5 604.0 224.9 606.0 C226.2 608.0 227.5 610.5 228.8 612.6 C230.1 614.7 231.5 616.7 232.8 618.5 C234.1 620.4 235.4 622.3 236.7 623.8 C238.0 625.4 239.4 626.2 240.7 627.8 C242.0 629.3 243.3 631.3 244.6 633.0 C246.0 634.8 247.3 636.8 248.6 638.3 C249.9 639.9 251.5 641.6 252.6 642.3 C253.6 643.0 254.3 642.1 255.0 642.6 C255.7 643.0 255.9 644.6 256.5 644.9 C257.1 645.2 257.6 644.1 258.5 644.3 C259.4 644.5 260.8 645.5 262.0 646.1 C263.2 646.6 264.3 647.2 265.5 647.8 C266.7 648.4 267.7 649.2 269.0 649.6 C270.4 650.0 272.1 650.0 273.7 650.1 C275.2 650.3 276.8 650.4 278.4 650.7 C279.9 651.0 281.5 651.6 283.0 651.9 C284.6 652.2 286.1 652.5 287.7 652.5 C289.3 652.5 290.8 652.1 292.4 651.9 C293.9 651.7 295.5 651.3 297.0 651.3 C298.6 651.3 300.2 652.0 301.7 651.9 C303.3 651.8 304.8 651.1 306.4 651.0 C307.9 650.8 309.5 650.9 311.1 651.0 C312.6 651.0 314.2 651.3 315.7 651.3 C317.3 651.4 318.8 651.5 320.4 651.3 C322.0 651.2 323.5 650.8 325.1 650.5 C326.6 650.2 328.5 649.8 329.7 649.6 C331.0 649.3 331.9 649.1 332.3 649.0" fill="none" stroke="#f07820" stroke-width="3.0" stroke-linejoin="round" stroke-linecap="round"/><path d="M29.2 618.0 C30.1 618.0 32.9 618.1 35.0 618.0 C37.1 618.0 39.3 617.9 42.0 617.8 C44.7 617.7 48.6 617.6 51.4 617.4 C54.1 617.3 55.8 617.3 58.4 617.1 C60.9 616.9 63.8 616.3 66.5 616.3 C69.3 616.3 72.4 616.8 74.7 617.1 C77.1 617.4 78.6 617.7 80.6 618.0 C82.5 618.4 84.6 618.8 86.4 619.2 C88.1 619.6 89.5 619.9 91.1 620.4 C92.6 620.8 94.2 621.3 95.7 621.8 C97.3 622.3 98.9 622.7 100.4 623.3 C102.0 623.8 103.7 624.4 105.1 625.0 C106.4 625.7 107.3 626.7 108.5 627.3 C109.7 627.9 110.6 628.3 112.0 628.8 C113.4 629.3 115.1 629.7 116.7 630.2 C118.2 630.7 119.8 631.5 121.4 632.0 C122.9 632.5 124.5 632.6 126.0 633.1 C127.6 633.7 129.1 634.8 130.7 635.5 C132.3 636.2 133.8 636.6 135.4 637.2 C136.9 637.8 138.5 638.3 140.0 639.0 C141.6 639.7 143.2 640.5 144.7 641.3 C146.3 642.1 147.8 643.0 149.4 643.6 C150.9 644.3 152.5 644.9 154.1 645.4 C155.6 645.9 157.2 646.3 158.7 646.8 C160.3 647.3 161.8 647.9 163.4 648.3 C165.0 648.8 166.5 649.2 168.1 649.5 C169.6 649.8 171.2 649.9 172.7 650.1 C174.3 650.3 174.9 650.9 177.4 650.7 C179.9 650.5 185.3 649.5 187.9 648.9 C190.5 648.3 191.4 647.6 193.2 646.9 C195.0 646.2 196.7 645.7 198.5 644.9 C200.2 644.2 202.0 643.2 203.7 642.3 C205.5 641.4 207.3 640.5 209.0 639.6 C210.8 638.8 212.5 637.9 214.3 637.0 C216.1 636.1 217.8 635.4 219.6 634.4 C221.3 633.4 223.3 632.1 224.9 631.1 C226.4 630.1 227.5 629.2 228.8 628.4 C230.1 627.7 231.5 627.1 232.8 626.5 C234.1 625.8 235.4 625.0 236.7 624.5 C238.0 624.0 239.4 623.9 240.7 623.5 C242.0 623.2 243.3 622.8 244.6 622.5 C246.0 622.1 247.3 621.8 248.6 621.4 C249.9 621.1 251.2 620.8 252.6 620.5 C253.9 620.2 255.5 619.6 256.5 619.6 C257.5 619.6 257.4 620.7 258.5 620.6 C259.6 620.5 261.4 619.5 263.2 619.2 C264.9 618.9 266.9 618.7 269.0 618.6 C271.2 618.5 273.5 618.5 276.0 618.4 C278.6 618.2 281.5 618.0 284.2 617.8 C286.9 617.6 289.5 617.5 292.4 617.4 C295.3 617.4 299.0 617.4 301.7 617.4 C304.4 617.5 306.4 617.6 308.7 617.6 C311.1 617.6 313.4 617.5 315.7 617.4 C318.1 617.4 320.8 617.3 322.7 617.4 C324.7 617.5 326.0 617.8 327.4 618.0 C328.8 618.2 330.3 618.5 330.9 618.6" fill="none" stroke="#00c8c8" stroke-width="3.0" stroke-linejoin="round" stroke-linecap="round"/></g><rect x="30.10" y="530.80" width="302.40" height="193.50" fill="none" stroke="#000" stroke-width="1.5"/><line x1="26.20" y1="724.30" x2="30.10" y2="724.30" stroke="#000" stroke-width="1.3"/><text x="23.90" y="729.20" font-size="12.3" font-weight="bold" text-anchor="end">−1</text><line x1="26.20" y1="704.95" x2="30.10" y2="704.95" stroke="#000" stroke-width="1.3"/><text x="23.90" y="709.85" font-size="12.3" font-weight="bold" text-anchor="end">−0.8</text><line x1="26.20" y1="685.60" x2="30.10" y2="685.60" stroke="#000" stroke-width="1.3"/><text x="23.90" y="690.50" font-size="12.3" font-weight="bold" text-anchor="end">−0.6</text><line x1="26.20" y1="666.25" x2="30.10" y2="666.25" stroke="#000" stroke-width="1.3"/><text x="23.90" y="671.15" font-size="12.3" font-weight="bold" text-anchor="end">−0.4</text><line x1="26.20" y1="646.90" x2="30.10" y2="646.90" stroke="#000" stroke-width="1.3"/><text x="23.90" y="651.80" font-size="12.3" font-weight="bold" text-anchor="end">−0.2</text><line x1="26.20" y1="627.55" x2="30.10" y2="627.55" stroke="#000" stroke-width="1.3"/><text x="23.90" y="632.45" font-size="12.3" font-weight="bold" text-anchor="end">0</text><line x1="26.20" y1="608.20" x2="30.10" y2="608.20" stroke="#000" stroke-width="1.3"/><text x="23.90" y="613.10" font-size="12.3" font-weight="bold" text-anchor="end">0.2</text><line x1="26.20" y1="588.85" x2="30.10" y2="588.85" stroke="#000" stroke-width="1.3"/><text x="23.90" y="593.75" font-size="12.3" font-weight="bold" text-anchor="end">0.4</text><line x1="26.20" y1="569.50" x2="30.10" y2="569.50" stroke="#000" stroke-width="1.3"/><text x="23.90" y="574.40" font-size="12.3" font-weight="bold" text-anchor="end">0.6</text><line x1="26.20" y1="550.15" x2="30.10" y2="550.15" stroke="#000" stroke-width="1.3"/><text x="23.90" y="555.05" font-size="12.3" font-weight="bold" text-anchor="end">0.8</text><line x1="26.20" y1="530.80" x2="30.10" y2="530.80" stroke="#000" stroke-width="1.3"/><text x="23.90" y="535.70" font-size="12.3" font-weight="bold" text-anchor="end">1</text><line x1="30.10" y1="724.30" x2="30.10" y2="727.80" stroke="#000" stroke-width="1.3"/><text x="30.80" y="738.60" font-size="12.3" font-weight="bold" text-anchor="middle">−50</text><line x1="60.34" y1="724.30" x2="60.34" y2="727.80" stroke="#000" stroke-width="1.3"/><text x="63.34" y="738.60" font-size="12.3" font-weight="bold" text-anchor="middle">−40</text><line x1="90.58" y1="724.30" x2="90.58" y2="727.80" stroke="#000" stroke-width="1.3"/><text x="93.58" y="738.60" font-size="12.3" font-weight="bold" text-anchor="middle">−30</text><line x1="120.82" y1="724.30" x2="120.82" y2="727.80" stroke="#000" stroke-width="1.3"/><text x="123.82" y="738.60" font-size="12.3" font-weight="bold" text-anchor="middle">−20</text><line x1="151.06" y1="724.30" x2="151.06" y2="727.80" stroke="#000" stroke-width="1.3"/><text x="154.06" y="738.60" font-size="12.3" font-weight="bold" text-anchor="middle">−10</text><line x1="181.30" y1="724.30" x2="181.30" y2="727.80" stroke="#000" stroke-width="1.3"/><text x="184.30" y="738.60" font-size="12.3" font-weight="bold" text-anchor="middle">0</text><line x1="211.54" y1="724.30" x2="211.54" y2="727.80" stroke="#000" stroke-width="1.3"/><text x="214.54" y="738.60" font-size="12.3" font-weight="bold" text-anchor="middle">10</text><line x1="241.78" y1="724.30" x2="241.78" y2="727.80" stroke="#000" stroke-width="1.3"/><text x="244.78" y="738.60" font-size="12.3" font-weight="bold" text-anchor="middle">20</text><line x1="272.02" y1="724.30" x2="272.02" y2="727.80" stroke="#000" stroke-width="1.3"/><text x="275.02" y="738.60" font-size="12.3" font-weight="bold" text-anchor="middle">30</text><line x1="302.26" y1="724.30" x2="302.26" y2="727.80" stroke="#000" stroke-width="1.3"/><text x="305.26" y="738.60" font-size="12.3" font-weight="bold" text-anchor="middle">40</text><line x1="332.50" y1="724.30" x2="332.50" y2="727.80" stroke="#000" stroke-width="1.3"/><text x="335.50" y="738.60" font-size="12.3" font-weight="bold" text-anchor="middle">50</text><text x="133.40" y="753.00" font-size="16" textLength="101.5" lengthAdjust="spacingAndGlyphs">Lead/lag year</text><text x="46.60" y="526.00" font-size="16" textLength="286.4" lengthAdjust="spacingAndGlyphs">0-200m Temp Tendency (SPEAR_LO)</text><text x="29.20" y="527.50" font-size="18" font-weight="bold">e</text></g>
<g><line x1="368.95" y1="628.10" x2="672.00" y2="628.10" stroke="#000" stroke-width="1.2" stroke-dasharray="1.3 3.25"/><clipPath id="cpf"><rect x="369.55" y="531.20" width="302.45" height="193.80"/></clipPath><g clip-path="url(#cpf)"><path d="M369.8 643.7 L370.9 639.1 L372.1 634.4 L375.0 635.5 L377.9 636.7 L380.8 633.8 L384.4 630.9 L387.3 630.9 L389.6 634.4 L391.9 639.1 L393.7 638.5 L396.0 637.3 L398.4 635.5 L400.7 636.1 L402.5 637.3 L404.2 636.1 L406.5 634.4 L408.9 633.2 L410.6 632.0" fill="none" stroke="#000" stroke-width="3.0" stroke-linejoin="round" stroke-linecap="round"/><path d="M410.6 632.0 L413.0 629.1 L414.7 628.5 L417.1 630.3" fill="none" stroke="#000" stroke-width="1.0" stroke-linejoin="round" stroke-linecap="round"/><path d="M417.1 630.3 L420.0 630.3 L422.9 630.3 L425.2 629.7" fill="none" stroke="#000" stroke-width="3.0" stroke-linejoin="round" stroke-linecap="round"/><path d="M425.2 629.7 L427.6 628.5 L429.9 627.4 L432.2 625.0 L433.4 625.0" fill="none" stroke="#000" stroke-width="1.0" stroke-linejoin="round" stroke-linecap="round"/><path d="M433.4 625.0 L435.7 623.9 L438.1 621.5 L440.4 619.2 L442.7 618.0 L445.1 616.9" fill="none" stroke="#000" stroke-width="3.0" stroke-linejoin="round" stroke-linecap="round"/><path d="M445.1 616.9 L445.0 617.4 L447.3 616.2 L450.8 617.4 L454.3 620.3 L457.8 618.5 L462.5 615.0 L466.0 612.7 L469.5 613.9 L473.0 613.9 L476.5 614.5 L478.9 613.9 L481.2 611.5 L484.7 609.8 L488.2 610.9 L491.7 612.1 L495.2 609.8 L497.6 606.3 L499.9 603.9 L503.4 606.3 L505.7 609.2 L509.2 606.3 L512.7 603.9 L515.1 605.1 L516.8 610.4 L519.7 612.1" fill="none" stroke="#000" stroke-width="3.0" stroke-linejoin="round" stroke-linecap="round"/><path d="M519.7 612.1 L520.0 611.4 L523.3 608.1 L525.9 614.7 L528.6 620.0 L531.9 621.9 L535.2 619.3 L537.8 622.6" fill="none" stroke="#000" stroke-width="3.0" stroke-linejoin="round" stroke-linecap="round"/><path d="M537.8 622.6 L541.1 627.2 L545.1 629.2" fill="none" stroke="#000" stroke-width="1.0" stroke-linejoin="round" stroke-linecap="round"/><path d="M545.1 629.2 L547.7 629.9 L551.7 634.5 L555.6 640.4 L558.9 641.7 L562.2 636.5 L565.5 640.4 L568.8 641.7 L572.8 637.8 L576.7 639.1 L580.7 643.0 L584.6 641.7 L588.6 644.4 L591.9 646.3 L594.5 640.4 L597.2 635.8" fill="none" stroke="#000" stroke-width="3.0" stroke-linejoin="round" stroke-linecap="round"/><path d="M595.0 637.9 L597.3 635.5 L599.7 634.4 L602.0 633.8 L604.3 636.1 L606.7 637.9 L610.2 638.5 L613.7 637.9 L617.2 640.2 L619.5 640.8 L621.9 636.7 L624.2 635.0 L626.5 633.8 L628.9 633.2" fill="none" stroke="#000" stroke-width="3.0" stroke-linejoin="round" stroke-linecap="round"/><path d="M628.9 633.2 L631.2 632.0 L633.5 630.9" fill="none" stroke="#000" stroke-width="1.0" stroke-linejoin="round" stroke-linecap="round"/><path d="M633.5 630.9 L637.0 630.9 L639.4 631.5 L641.7 633.2 L644.1 634.4 L647.0 636.1 L649.9 633.8 L653.4 633.2 L656.9 635.0 L659.2 636.7 L661.6 635.0 L665.1 632.6 L668.6 632.6 L671.5 631.5" fill="none" stroke="#000" stroke-width="3.0" stroke-linejoin="round" stroke-linecap="round"/><path d="M369.4 623.9 L370.3 620.4" fill="none" stroke="#ff3030" stroke-width="1.0" stroke-linejoin="round" stroke-linecap="round"/><path d="M370.3 620.4 L372.1 612.2 L375.0 615.7 L378.5 618.6 L382.0 614.5 L384.9 611.6 L387.9 609.9 L390.2 616.9 L391.9 621.5" fill="none" stroke="#ff3030" stroke-width="3.0" stroke-linejoin="round" stroke-linecap="round"/><path d="M391.9 621.5 L393.7 626.2 L395.4 623.3" fill="none" stroke="#ff3030" stroke-width="1.0" stroke-linejoin="round" stroke-linecap="round"/><path d="M395.4 623.3 L397.2 622.7 L399.5 623.9" fill="none" stroke="#ff3030" stroke-width="3.0" stroke-linejoin="round" stroke-linecap="round"/><path d="M399.5 623.9 L401.9 626.2 L404.2 627.4 L406.5 625.0 L408.9 622.7 L411.2 620.9" fill="none" stroke="#ff3030" stroke-width="1.0" stroke-linejoin="round" stroke-linecap="round"/><path d="M411.2 620.9 L413.5 620.6 L415.3 621.3" fill="none" stroke="#ff3030" stroke-width="3.0" stroke-linejoin="round" stroke-linecap="round"/><path d="M415.3 621.3 L418.2 626.2 L421.7 628.5 L425.2 629.7 L427.6 629.1 L429.9 630.3 L431.1 633.8" fill="none" stroke="#ff3030" stroke-width="1.0" stroke-linejoin="round" stroke-linecap="round"/><path d="M431.1 633.8 L433.4 635.5 L435.7 634.4 L438.1 631.5" fill="none" stroke="#ff3030" stroke-width="3.0" stroke-linejoin="round" stroke-linecap="round"/><path d="M438.1 631.5 L440.4 628.5 L442.7 627.4 L445.1 627.4 L448.0 628.0" fill="none" stroke="#ff3030" stroke-width="1.0" stroke-linejoin="round" stroke-linecap="round"/><path d="M445.0 626.7 L449.7 629.1 L454.3 632.6 L457.3 629.1 L461.4 626.1 L466.0 624.4 L469.5 626.7 L473.0 626.7 L476.5 625.5 L480.0 624.4 L481.2 620.9 L482.4 619.1" fill="none" stroke="#ff3030" stroke-width="1.0" stroke-linejoin="round" stroke-linecap="round"/><path d="M482.4 619.1 L482.4 618.5 L484.7 616.2 L488.2 615.6 L491.7 616.8 L495.2 613.9 L497.6 610.9 L499.9 605.1 L502.2 606.9 L505.7 608.0 L508.6 603.9 L511.6 596.4 L513.9 590.5 L515.1 590.5 L517.4 597.5 L519.7 597.5 L522.1 592.8 L523.8 591.7" fill="none" stroke="#ff3030" stroke-width="3.0" stroke-linejoin="round" stroke-linecap="round"/><path d="M520.0 597.5 L523.3 592.3 L525.3 598.2 L527.3 606.1 L529.9 614.0 L532.5 617.3 L535.2 614.7 L537.2 618.6 L539.8 624.6 L541.8 629.9 L543.7 637.8 L546.4 641.7 L549.0 647.0 L551.7 654.9 L554.3 661.5 L556.9 669.4 L559.6 674.1 L562.9 668.1 L565.5 669.4 L568.8 676.0 L572.8 672.1 L576.7 669.4 L580.7 672.1 L584.6 669.4 L588.6 668.8 L591.9 666.1 L594.5 658.9 L597.2 652.3" fill="none" stroke="#ff3030" stroke-width="3.0" stroke-linejoin="round" stroke-linecap="round"/><path d="M595.0 656.6 L597.3 651.9 L599.7 647.2 L602.0 644.3 L604.3 646.6 L607.8 647.2 L611.4 646.1 L614.9 645.5 L618.4 646.1 L620.1 644.9 L621.9 641.4 L624.2 636.7 L626.5 635.0 L628.9 633.8 L630.6 632.6" fill="none" stroke="#ff3030" stroke-width="3.0" stroke-linejoin="round" stroke-linecap="round"/><path d="M630.6 632.6 L632.4 628.5 L634.1 626.2" fill="none" stroke="#ff3030" stroke-width="1.0" stroke-linejoin="round" stroke-linecap="round"/><path d="M634.1 626.2 L637.0 624.5 L640.5 622.7 L644.1 621.5 L645.8 622.1 L647.6 625.6" fill="none" stroke="#ff3030" stroke-width="3.0" stroke-linejoin="round" stroke-linecap="round"/><path d="M647.6 625.6 L649.3 621.5 L649.9 620.4" fill="none" stroke="#ff3030" stroke-width="1.0" stroke-linejoin="round" stroke-linecap="round"/><path d="M649.9 620.4 L653.4 619.2 L656.9 620.4 L659.2 622.7 L662.2 619.8 L665.1 616.9 L667.4 618.0 L669.7 619.8 L671.5 619.2" fill="none" stroke="#ff3030" stroke-width="3.0" stroke-linejoin="round" stroke-linecap="round"/><path d="M369.8 648.4 L370.3 649.6 L372.7 649.0 L376.2 646.6 L379.7 644.9 L383.2 644.9 L386.1 646.6 L387.9 647.2 L389.6 645.5 L392.5 642.6 L396.0 640.2 L399.5 639.1 L403.0 639.1 L406.5 637.3 L410.0 636.1 L414.7 635.0 L418.2 633.2" fill="none" stroke="#1e32ff" stroke-width="3.0" stroke-linejoin="round" stroke-linecap="round"/><path d="M418.2 633.2 L421.1 631.5 L424.1 629.7 L426.4 628.5 L428.7 627.4 L431.1 622.7 L432.2 619.8" fill="none" stroke="#1e32ff" stroke-width="1.0" stroke-linejoin="round" stroke-linecap="round"/><path d="M432.2 619.8 L435.7 619.8 L439.2 619.2 L442.7 618.6 L445.1 617.4" fill="none" stroke="#1e32ff" stroke-width="3.0" stroke-linejoin="round" stroke-linecap="round"/><path d="M445.1 617.4 L445.0 618.5 L447.3 615.6 L450.8 613.9 L454.3 615.6 L457.8 618.0 L462.5 617.4 L466.0 616.8 L469.5 615.0 L473.0 615.6 L476.5 617.4 L480.0 619.7 L483.5 622.0 L487.0 622.6 L490.5 623.2 L491.7 623.8" fill="none" stroke="#1e32ff" stroke-width="3.0" stroke-linejoin="round" stroke-linecap="round"/><path d="M491.7 623.8 L495.2 625.5 L498.7 626.7 L502.2 627.9 L505.7 629.1 L508.6 632.0 L511.0 633.7" fill="none" stroke="#1e32ff" stroke-width="1.0" stroke-linejoin="round" stroke-linecap="round"/><path d="M511.0 633.7 L512.7 637.2 L515.1 641.3 L518.6 641.3 L520.9 641.9 L523.2 643.6" fill="none" stroke="#1e32ff" stroke-width="3.0" stroke-linejoin="round" stroke-linecap="round"/><path d="M520.0 641.7 L523.3 643.7 L526.6 640.4 L530.6 635.1 L534.5 631.8 L537.2 630.5" fill="none" stroke="#1e32ff" stroke-width="3.0" stroke-linejoin="round" stroke-linecap="round"/><path d="M537.2 630.5 L539.8 627.2 L542.4 623.3 L545.1 619.3" fill="none" stroke="#1e32ff" stroke-width="1.0" stroke-linejoin="round" stroke-linecap="round"/><path d="M545.1 619.3 L548.4 615.3 L551.7 611.4 L555.0 606.1 L558.3 599.5 L560.2 596.2 L563.5 596.9 L566.8 598.2 L569.5 594.9 L572.1 593.6 L575.4 596.2 L578.0 598.2 L582.0 598.2 L586.0 600.8 L589.9 604.8 L593.9 609.4 L597.2 613.4" fill="none" stroke="#1e32ff" stroke-width="3.0" stroke-linejoin="round" stroke-linecap="round"/><path d="M595.0 608.1 L597.3 610.4 L599.7 613.4 L602.0 616.3 L605.5 618.6 L609.0 619.8 L612.5 620.4 L616.0 621.5 L619.5 622.1 L621.3 623.3" fill="none" stroke="#1e32ff" stroke-width="3.0" stroke-linejoin="round" stroke-linecap="round"/><path d="M621.3 623.3 L624.2 625.6 L627.7 627.4 L631.2 629.1 L633.5 631.5" fill="none" stroke="#1e32ff" stroke-width="1.0" stroke-linejoin="round" stroke-linecap="round"/><path d="M633.5 631.5 L633.5 632.0 L637.0 633.8 L639.4 636.1 L641.7 639.1 L644.1 640.2 L647.6 639.1 L651.1 640.2 L654.6 641.4 L658.1 642.0 L661.6 642.6 L665.1 643.7 L668.6 642.0 L671.5 640.8" fill="none" stroke="#1e32ff" stroke-width="3.0" stroke-linejoin="round" stroke-linecap="round"/><path d="M371.0 627.8 L670.5 627.8" fill="none" stroke="#f07820" stroke-width="2.6" stroke-linejoin="round" stroke-linecap="round"/><path d="M371.2 627.7 L670.4 627.7" fill="none" stroke="#00c8c8" stroke-width="3.3" stroke-linejoin="round" stroke-linecap="round"/></g><rect x="369.55" y="531.20" width="302.45" height="193.80" fill="none" stroke="#000" stroke-width="1.5"/><line x1="365.65" y1="725.00" x2="369.55" y2="725.00" stroke="#000" stroke-width="1.3"/><text x="363.35" y="729.90" font-size="12.3" font-weight="bold" text-anchor="end">−3</text><line x1="365.65" y1="692.70" x2="369.55" y2="692.70" stroke="#000" stroke-width="1.3"/><text x="363.35" y="697.60" font-size="12.3" font-weight="bold" text-anchor="end">−2</text><line x1="365.65" y1="660.40" x2="369.55" y2="660.40" stroke="#000" stroke-width="1.3"/><text x="363.35" y="665.30" font-size="12.3" font-weight="bold" text-anchor="end">−1</text><line x1="365.65" y1="628.10" x2="369.55" y2="628.10" stroke="#000" stroke-width="1.3"/><text x="363.35" y="633.00" font-size="12.3" font-weight="bold" text-anchor="end">0</text><line x1="365.65" y1="595.80" x2="369.55" y2="595.80" stroke="#000" stroke-width="1.3"/><text x="363.35" y="600.70" font-size="12.3" font-weight="bold" text-anchor="end">1</text><line x1="365.65" y1="563.50" x2="369.55" y2="563.50" stroke="#000" stroke-width="1.3"/><text x="363.35" y="568.40" font-size="12.3" font-weight="bold" text-anchor="end">2</text><line x1="365.65" y1="531.20" x2="369.55" y2="531.20" stroke="#000" stroke-width="1.3"/><text x="363.35" y="536.10" font-size="12.3" font-weight="bold" text-anchor="end">3</text><line x1="369.55" y1="725.00" x2="369.55" y2="728.50" stroke="#000" stroke-width="1.3"/><text x="370.25" y="739.30" font-size="12.3" font-weight="bold" text-anchor="middle">−50</text><line x1="399.80" y1="725.00" x2="399.80" y2="728.50" stroke="#000" stroke-width="1.3"/><text x="402.80" y="739.30" font-size="12.3" font-weight="bold" text-anchor="middle">−40</text><line x1="430.04" y1="725.00" x2="430.04" y2="728.50" stroke="#000" stroke-width="1.3"/><text x="433.04" y="739.30" font-size="12.3" font-weight="bold" text-anchor="middle">−30</text><line x1="460.29" y1="725.00" x2="460.29" y2="728.50" stroke="#000" stroke-width="1.3"/><text x="463.29" y="739.30" font-size="12.3" font-weight="bold" text-anchor="middle">−20</text><line x1="490.53" y1="725.00" x2="490.53" y2="728.50" stroke="#000" stroke-width="1.3"/><text x="493.53" y="739.30" font-size="12.3" font-weight="bold" text-anchor="middle">−10</text><line x1="520.77" y1="725.00" x2="520.77" y2="728.50" stroke="#000" stroke-width="1.3"/><text x="523.77" y="739.30" font-size="12.3" font-weight="bold" text-anchor="middle">0</text><line x1="551.02" y1="725.00" x2="551.02" y2="728.50" stroke="#000" stroke-width="1.3"/><text x="554.02" y="739.30" font-size="12.3" font-weight="bold" text-anchor="middle">10</text><line x1="581.26" y1="725.00" x2="581.26" y2="728.50" stroke="#000" stroke-width="1.3"/><text x="584.26" y="739.30" font-size="12.3" font-weight="bold" text-anchor="middle">20</text><line x1="611.51" y1="725.00" x2="611.51" y2="728.50" stroke="#000" stroke-width="1.3"/><text x="614.51" y="739.30" font-size="12.3" font-weight="bold" text-anchor="middle">30</text><line x1="641.75" y1="725.00" x2="641.75" y2="728.50" stroke="#000" stroke-width="1.3"/><text x="644.75" y="739.30" font-size="12.3" font-weight="bold" text-anchor="middle">40</text><line x1="672.00" y1="725.00" x2="672.00" y2="728.50" stroke="#000" stroke-width="1.3"/><text x="675.00" y="739.30" font-size="12.3" font-weight="bold" text-anchor="middle">50</text><text x="470.70" y="752.50" font-size="16" textLength="101.5" lengthAdjust="spacingAndGlyphs">Lead/lag year</text><text x="381.40" y="525.90" font-size="16" textLength="304.6" lengthAdjust="spacingAndGlyphs">0-200 m Salinity Tendency (SPEAR_LO)</text><text x="368.10" y="526.40" font-size="18" font-weight="bold">f</text></g>
<text x="151.3" y="188.7" font-size="13.5" fill="#111"><tspan>SIE [10</tspan><tspan font-size="8.1" dx="-0.8" dy="-8.1">6</tspan><tspan dx="0.2" dy="8.1">km</tspan><tspan font-size="8.1" dx="-0.8" dy="-8.1">2</tspan><tspan dx="0.2" dy="8.1">]</tspan></text>
<text x="230.7" y="188.7" font-size="13.5" fill="#ff1010"><tspan>Taux [10</tspan><tspan font-size="8.1" dx="-0.8" dy="-8.1">3</tspan><tspan dx="0.2" dy="8.1">Pa]</tspan></text>
<text x="151.9" y="204.3" font-size="13.5" fill="#1010ff"><tspan>Tauy [10</tspan><tspan font-size="8.1" dx="-0.8" dy="-8.1">-4</tspan><tspan dx="0.2" dy="8.1">Pa]</tspan></text>
<text x="232.0" y="204.3" font-size="13.5" fill="#10c8c8"><tspan>Curl [10</tspan><tspan font-size="8.1" dx="-0.8" dy="-8.1">-9</tspan><tspan dx="0.2" dy="8.1">Pa m</tspan><tspan font-size="8.1" dx="-0.8" dy="-8.1">-1</tspan><tspan dx="0.2" dy="8.1">]</tspan></text>
<text x="376.0" y="36.0" font-size="13.5" fill="#111">W m</text><text x="401.3" y="28.9" font-size="9.5" fill="#111">-2</text>
<text x="535.0" y="189.9" font-size="13.5" fill="#111"><tspan>Total</tspan></text>
<text x="567.7" y="189.9" font-size="13.5" fill="#ff1010"><tspan>Latent</tspan></text>
<text x="609.8" y="189.9" font-size="13.5" fill="#1010ff"><tspan>Sensible</tspan></text>
<text x="525.6" y="206.5" font-size="13.5" fill="#10c8c8"><tspan>Longwave</tspan></text>
<text x="597.1" y="206.5" font-size="13.5" fill="#f08030"><tspan>Shortwave</tspan></text>
<text x="170.2" y="447.5" font-size="13.5" fill="#111"><tspan>SIE [10</tspan><tspan font-size="8.1" dx="-0.8" dy="-8.1">6</tspan><tspan dx="0.2" dy="8.1">km</tspan><tspan font-size="8.1" dx="-0.8" dy="-8.1">2</tspan><tspan dx="0.2" dy="8.1">]</tspan></text>
<text x="249.8" y="447.5" font-size="13.5" fill="#ff1010"><tspan>SAM [10</tspan><tspan font-size="8.1" dx="-0.8" dy="-8.1">-1</tspan><tspan dx="0.2" dy="8.1">Pa]</tspan></text>
<text x="170.9" y="463.6" font-size="13.5" fill="#1010ff"><tspan>IPO [2x10</tspan><tspan font-size="8.1" dx="-0.8" dy="-8.1">-2</tspan><tspan font-size="9.7" dx="0.2" dy="3.6">o</tspan><tspan dx="0.2" dy="4.5">C]</tspan></text>
<text x="424.8" y="443.8" font-size="13.5" fill="#111"><tspan>SIE [10</tspan><tspan font-size="8.1" dx="-0.8" dy="-8.1">6</tspan><tspan dx="0.2" dy="8.1">km</tspan><tspan font-size="8.1" dx="-0.8" dy="-8.1">2</tspan><tspan dx="0.2" dy="8.1">]</tspan></text>
<text x="504.6" y="443.8" font-size="13.5" fill="#ff1010"><tspan>SST [10</tspan><tspan font-size="8.1" dx="-0.8" dy="-8.1">-1</tspan><tspan font-size="9.7" dx="0.2" dy="3.6">o</tspan><tspan dx="0.2" dy="4.5">C]</tspan></text>
<text x="581.3" y="443.8" font-size="13.5" fill="#1010ff"><tspan>SSS [10</tspan><tspan font-size="8.1" dx="-0.8" dy="-8.1">-1</tspan><tspan dx="0.2" dy="8.1">PSU]</tspan></text>
<text x="425.2" y="460.4" font-size="13.5" fill="#8a10e0"><tspan>MLD [10</tspan><tspan font-size="8.1" dx="-0.8" dy="-8.1">1</tspan><tspan dx="0.2" dy="8.1">m]</tspan></text>
<text x="504.6" y="460.4" font-size="13.5" fill="#10c8c8"><tspan>SODC [Sv]</tspan></text>
<text x="583.0" y="460.4" font-size="13.5" fill="#f08030"><tspan>APE [10</tspan><tspan font-size="8.1" dx="-0.8" dy="-8.1">1</tspan><tspan dx="0.2" dy="8.1">J m</tspan><tspan font-size="8.1" dx="-0.8" dy="-8.1">-3</tspan><tspan dx="0.2" dy="8.1">]</tspan></text>
<text x="35.4" y="550.9" font-size="13.5" fill="#111">10</text><text x="48.3" y="540.7" font-size="9.5" fill="#111">-1</text><text x="53.9" y="550.9" font-size="13.5" fill="#111">W</text><text x="71.5" y="550.9" font-size="13.5" fill="#111">m</text><text x="82.0" y="543.9" font-size="9.5" fill="#111">-2</text>
<text x="241.6" y="686.8" font-size="13.5" fill="#111"><tspan>Total</tspan></text>
<text x="241.3" y="702.9" font-size="13.5" fill="#ff1010"><tspan>Adv_xy</tspan></text>
<text x="289.8" y="702.9" font-size="13.5" fill="#1010ff"><tspan>Adv_z</tspan></text>
<text x="241.3" y="719.0" font-size="13.5" fill="#10c8c8"><tspan>Sbfc</tspan></text>
<text x="277.1" y="719.0" font-size="13.5" fill="#f08030"><tspan>Difmix</tspan></text>
<text x="372.0" y="549.9" font-size="13.5" fill="#111">10</text><text x="384.1" y="539.8" font-size="9.5" fill="#111">-7</text><text x="391.2" y="549.9" font-size="13.5" fill="#111">kg m</text><text x="417.4" y="542.0" font-size="9.5" fill="#111">-2</text><text x="424.8" y="549.9" font-size="13.5" fill="#111">s</text><text x="433.4" y="542.0" font-size="9.5" fill="#111">-1</text>
<text x="579.7" y="686.8" font-size="13.5" fill="#111"><tspan>Total</tspan></text>
<text x="579.7" y="702.9" font-size="13.5" fill="#ff1010"><tspan>Adv_xy</tspan></text>
<text x="627.9" y="702.9" font-size="13.5" fill="#1010ff"><tspan>Adv_z</tspan></text>
<text x="580.3" y="719.0" font-size="13.5" fill="#10c8c8"><tspan>Sbfc</tspan></text>
<text x="615.0" y="719.0" font-size="13.5" fill="#f08030"><tspan>Difmix</tspan></text>
</svg></body></html>
